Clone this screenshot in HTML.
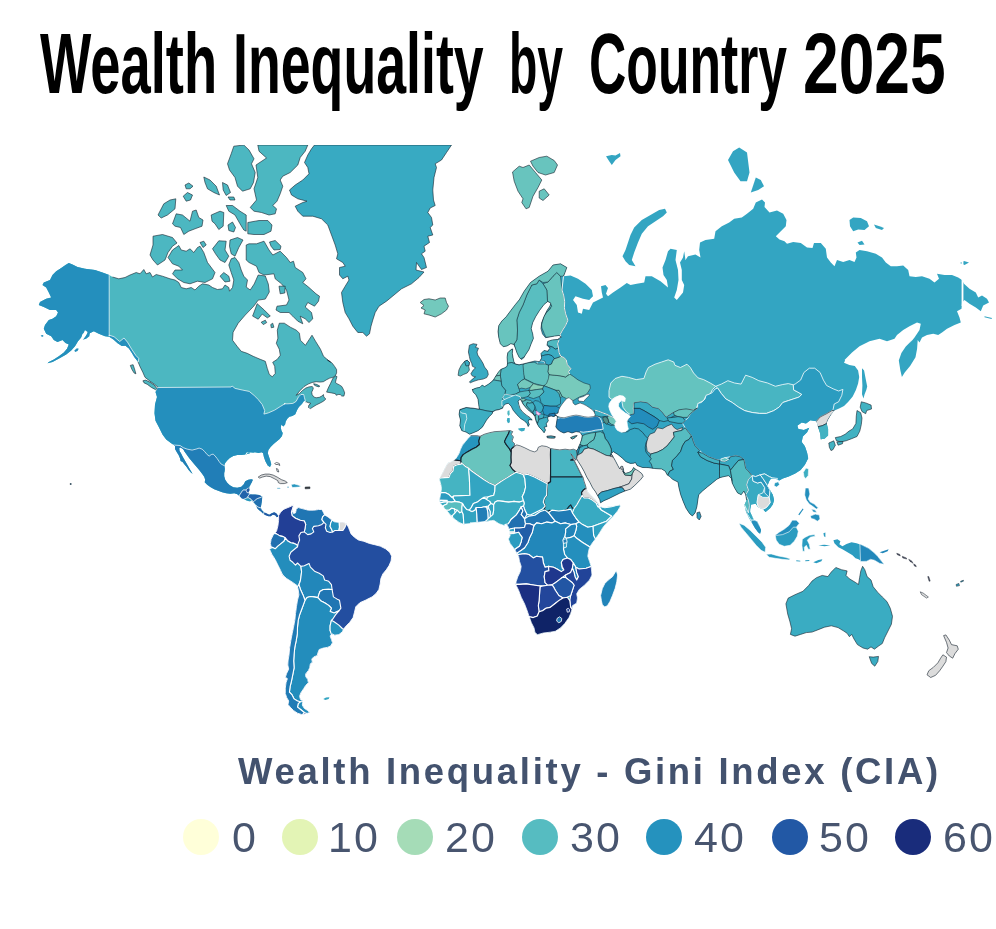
<!DOCTYPE html>
<html lang="en">
<head>
<meta charset="utf-8">
<title>Wealth Inequality by Country 2025</title>
<style>
html,body{margin:0;padding:0;background:#fff;}
body{width:996px;height:929px;position:relative;overflow:hidden;font-family:"Liberation Sans",sans-serif;}
h1{position:absolute;left:0;top:0;margin:0;font-size:86px;line-height:90px;font-weight:700;color:#000;white-space:nowrap;}
h1 span{position:absolute;top:18px;white-space:nowrap;transform-origin:0 0;}
h1 .w1{left:40px;transform:scaleX(0.632);}
h1 .w2{left:233px;transform:scaleX(0.6244);}
h1 .w3{left:509px;transform:scaleX(0.5394);}
h1 .w4{left:589px;transform:scaleX(0.601);}
h1 .w5{left:803px;transform:scaleX(0.746);}
svg.map{position:absolute;left:0;top:0;}
.ltitle{position:absolute;left:238px;top:749.5px;font-size:36.5px;line-height:44px;font-weight:700;color:#43526e;letter-spacing:2.7px;white-space:nowrap;}
.legend{position:absolute;left:0;top:812px;height:50px;width:996px;}
.legend i{position:absolute;top:7px;width:36px;height:36px;border-radius:50%;}
.legend span{position:absolute;top:0;font-size:43px;line-height:50px;color:#48556f;letter-spacing:2px;}
</style>
</head>
<body>
<h1><span class="w1">Wealth </span><span class="w2">Inequality </span><span class="w3">by </span><span class="w4">Country </span><span class="w5">2025</span></h1>
<svg class="map" width="996" height="929" viewBox="0 0 996 929">
<defs><clipPath id="frame"><rect x="0" y="145" width="996" height="600"/></clipPath>
<clipPath id="c_na"><path d="M109.2,275 102.5,272.5 95,270 85,268.8 77.5,267 72.5,264.5 68.8,263 65.5,265 61.2,268 56.2,271.2 52.5,275 50,280 43.8,282.5 42.5,285 46.2,287.5 48.8,292.5 51.2,297.5 46.2,298.8 40,302 38.8,305 43.8,307 50,310 56.2,310 58,312.5 56.2,316.2 52.5,318.8 48.8,320 45,325 43.8,328.8 46.2,333.8 51.2,336.2 53.8,340 57.5,342 62.5,340 65.5,343 68.8,344.5 67,348.8 63.8,352.5 58.8,356.2 53.8,359.5 48.8,362 47.5,363.2 52.5,362 60,358 66.2,354.5 71.2,350.5 75,346.2 78,341.2 81.2,337.5 82.5,333.8 86.2,332 88.8,333.8 93.8,331.2 98.8,333.8 105,336.2 109.2,336.8 113.4,339.4 117.6,343.3 121.8,346.1 125.4,345.7 128.9,348.5 131.7,352.7 134.2,356.9 137,360.4 138,361.8 138,361.8 140.1,366.8 142.9,372.4 145,377.3 150,381.2 154.5,384.3 158.1,387.4 155.5,392 157,397 155,404.5 154.5,413.2 155.5,420.8 158.8,427 162.5,434.5 166.2,439.5 171.2,443.2 175,445.8 175,449.1 177,452.6 178.6,455.1 180.1,458.6 180.6,461.1 182.6,462.1 184.1,464.1 186.6,467.1 188.6,470.1 191.1,472.7 192.6,473.7 190.6,470.6 188.6,467.1 186.6,463.6 184.6,460.1 182.6,456.6 181.1,453.6 179.6,451.1 179.1,448.6 180.1,447.2 183.1,449.1 184.6,451.6 186.6,454.6 189.1,458.1 191.6,461.1 194.1,464.1 197.1,467.6 199.6,470.6 202.1,473.7 204.2,476.7 205.2,479.7 204.7,482.2 207.2,484.7 210.7,487.2 214.2,489.2 218.2,490.7 222.2,492.2 226.2,493.2 230.3,493.7 234.3,493.2 237.3,494.2 239.8,496.2 240.1,496.6 241.6,498.2 244.1,499.2 246.1,500.2 249.1,501.2 252.1,501 254.2,503.2 256.2,505.7 257.2,508.2 259.2,510.2 261.2,511.7 263.2,513.7 265.7,515.2 268.2,516.2 270.7,516.2 272.7,514.7 275.2,515.2 276.7,517.2 278.3,516.7 277.8,515.2 276.2,513.2 274.2,512.2 271.7,513.2 269.2,514.7 266.2,513.2 264.2,512.2 262.2,510.2 260.7,507.7 261.4,504.2 262,500.2 262.2,496.6 259.2,495.1 255.2,494.6 252.1,494.6 249.6,494.1 248.6,492.6 249.6,490.1 249.1,488.1 249.3,487.7 250.3,485.2 251.8,482.2 252.9,479.7 251.3,479.2 248.3,479.7 245.3,481.2 243.8,484.2 241.3,486.7 237.3,487.7 233.3,487.2 229.8,485.2 227.2,482.7 225.2,479.7 224.2,476.2 224.2,473.2 224.7,469.1 224.2,465.6 225.2,463.1 227.2,460.6 229.8,458.1 233.3,456.1 237.3,455.1 241.3,455.1 245.3,454.6 246.3,452.6 249.3,452.1 253.4,452.1 245.9,454.5 248.9,452.3 251.9,452.9 254.9,452.3 258.6,452.9 261.6,452.3 263.1,453.3 263.9,457.1 265.4,461.3 267.7,465.5 270,467 271.3,464.3 270.1,460.1 268.9,456.5 267.8,453.3 268.4,449.9 270.6,446.9 273.6,443.9 276.6,441.4 279.6,439 282,436 282.7,433 281.4,430.6 280.8,427.6 281.4,424.6 283.3,426.4 285.1,424.6 285.7,421.6 287.5,418.6 289.3,416.7 292.3,416.1 295.3,414.3 297.1,410.1 298.9,407.1 301.9,404.1 304.3,400.5 305.5,401.9 306.1,401.8 308.1,402.6 310.9,403.4 308.9,405 308.5,407.4 310.5,408.6 312.9,407 316.1,405 320.2,403 323.8,401 325.8,399 323.8,396.9 323.4,394.5 321.8,396.1 319.4,397.3 316.1,397.8 313.7,396.9 312.1,394.5 311.7,392.1 312.9,389.7 313.3,387.7 312.1,386.5 308.9,386.9 305.7,388.1 302.5,390.5 299.3,393.7 296.1,395.3 300.1,390.5 304.1,386.5 308.1,384.1 312.1,382.5 316.1,381.7 320.2,382.1 323.4,381.7 326.6,379.7 329.8,378.1 333,377.3 335.4,375.7 336.6,372.9 336.6,369.6 334.6,366.4 332.2,363.2 329.8,361.2 327.4,360 330.5,362.3 323.5,356.3 320.5,349.3 315.5,341.2 312,335.2 309.4,339.2 305.4,345.3 300.4,340.2 299.4,333.2 296.4,330.2 290.4,327.2 284.3,323.2 279.3,323.2 277.3,330.2 277.9,338.2 276.3,343.3 279.3,349.3 280.3,355.3 277.3,359.3 272.7,362.3 274.7,366.3 275.3,373.4 272.3,376.8 269.3,374.4 267.3,368.4 265.3,361.3 260.2,359.3 253.2,356.3 247.2,353.3 241.2,351.3 237.1,346.3 232.5,340.2 233.1,332.2 238.2,323.2 245.2,315.1 253.8,306.1 258.2,300.1 265.3,299.1 269.3,292 268.3,284 265.3,276 258.2,275 254.2,284 250.2,290 246.2,287 247.5,280 243.8,276.2 241.2,270 238.8,262.5 235,257.5 231.2,258.8 228.8,265 231.2,272.5 233.8,280 232.5,287.5 229.5,291.2 228.8,287.5 225,285 222.5,288.8 217.5,289.5 212.5,287.5 208.8,285 202.5,283.8 198.8,286.2 195,290 191.2,287.5 186.2,288.8 181.2,287.5 178.8,282.5 175,280 170,278.8 162.5,276.2 156.2,274.5 152.5,277 150,272.5 146.2,273.8 143.8,269.5 140,273.8 136.2,272.5 130,275 125,277.5 118.8,278.8 112.5,277Z"/></clipPath>
<clipPath id="c_sa"><path d="M278.6,515.6 280.6,512.2 284,508.8 288,507.5 291.4,506.1 294.1,504.7 292.8,508.1 292.1,510.8 293.5,513.6 295.5,512.9 296.2,509.5 298.2,507.5 303,508.8 308.4,510.2 313.8,510.2 318.5,509.5 321.9,509.5 323.3,512.2 324.6,514.9 328,516.9 331.4,519.7 334.1,521.7 338.9,522.4 342.9,522 346.3,523.7 348.4,527.1 349.7,530.5 351.1,533.9 354.5,537.3 358.5,540 363.9,541.3 369.4,543.4 374.8,544.7 380.2,546.1 385.6,548.8 389.7,552.2 391.7,556.2 391.1,561 389,565.7 386.3,569.8 382.9,573.9 380.9,578.6 380.2,584 378.9,589.5 376.1,593.5 372.1,596.9 366.7,599.6 366,600 359.9,602.7 355.8,606.8 354.5,612.2 353.1,617.6 349.7,622.4 346.3,625.8 343.6,629.1 342.3,631.9 338.9,634.6 334.8,635.2 332.1,633.9 330.1,635.9 331.4,639.3 332.5,642.7 330.7,646.1 327.3,647.4 323.3,648.1 319.2,649.5 317.9,652.9 317.2,655.6 313.8,656.9 311.8,659 312.4,662.3 310.4,663.7 309.7,667.8 308.4,670.5 305.7,673.9 305.7,676.6 307.7,679.3 308.4,682.7 305.7,685.4 303.6,688.8 300.9,692.8 299.6,696.2 300.5,699.6 303,701 302.3,705 304.3,708.4 307.7,710.5 309.7,712.5 305.7,713.9 301.6,714.5 297.5,713.2 293.5,710.5 290.1,707.1 288,704.4 288.7,701 286.7,697.6 285.3,693.5 285.3,688.1 286,682.7 287.4,678.6 285.3,677.3 286.7,673.2 288.7,669.1 287.8,665.1 288,661 289.1,654.2 289.7,647.4 290.8,640.7 292.1,633.9 293.5,627.1 294.8,620.3 295.5,613.6 296.4,606.8 297.5,600 298.9,594.9 298.2,589.5 296.9,585.4 292.1,582 286.7,578.6 282.6,575.2 280.6,570.5 277.9,565.1 275.2,559.6 271.8,554.2 269.7,549.5 271.1,546.8 270.4,543.4 271.1,539.3 273.1,535.2 276.5,531.2 277.9,525.8 278.6,520.3Z"/></clipPath>
<clipPath id="c_af"><path d="M470.7,435.7 476.8,435.7 480.1,436.3 484.2,434.3 489.6,432.7 495.1,431.6 500.5,431.3 505.9,430.9 510,430.5 512.7,431.6 511.3,434.3 513.4,437 512,441.1 514.7,443.8 514,446.5 516.7,444.9 520.1,445.8 524.9,447.9 530.3,450.6 534.4,451.9 537.1,450.6 538.4,447.2 541.8,445.8 546.6,446.5 550.6,448.5 550.6,448.5 554.4,449.2 559.8,449.9 565.2,449.2 570,449.9 573.4,449.2 576.8,450.6 577.4,454.6 575.8,460.3 572.7,456 570.7,453.6 573.4,458.7 576.1,464.1 578.8,469.5 581.5,475 582.9,477 584.2,481.7 585.6,485.8 586.2,488.5 588.3,492.6 591.7,496 595.1,499.4 597.8,502.8 599.1,505.5 603.2,507.5 608.6,506.8 614,505.9 619.5,505.1 620,504.5 620.2,506.7 617.6,511 613.4,516.1 608.2,521.2 603.1,527.2 598.9,534 595.4,539.1 592,543.4 589.5,547.7 588.6,551.1 587.8,556.2 589.5,561.3 591.2,566.4 591.5,569.9 592,575 589.5,580.1 584.4,585.2 579.2,589.5 576.7,593.8 577.5,598 576.7,603.1 572.4,605.7 572.1,609.1 570.7,613.4 569,617.6 564.7,623.6 560.5,627.9 555.3,631.3 550.2,632.2 543.4,633 537.4,634.7 534.9,632.2 534,627.9 531.4,622.8 528.9,615.9 527.2,610.8 524.6,604 521.2,597.2 518.6,590.3 515.7,584.4 516.1,581.8 517.8,576.7 520.3,571.6 521.2,566.4 519.5,561.3 518.6,556.2 516.9,553.6 515.2,550.2 512.7,546.8 510.1,543.4 508.4,539.1 510.1,535.7 509.6,533.2 509.3,530.6 508.4,527.2 506.7,524.6 504.1,525.5 499,523.8 493.9,520.4 487.1,521.2 480.2,522.1 470,522.9 470.7,523.5 463.3,524.3 459.1,522.4 455.8,520 453,517.7 450.3,515 447.6,511.6 444.9,508.9 442.9,506.1 440.2,503.4 439.5,499.4 440.2,496 440.8,492.6 441.5,488.5 440.8,484.5 439.5,479.7 440.2,477 442.2,473.6 444.2,469.5 446.3,465.5 448.3,462.8 451.7,461.4 455.1,459.4 457.1,456.7 459.1,453.3 460.5,449.2 462.5,445.1 465.2,441.8 468,438.4Z"/></clipPath>
<clipPath id="c_ea"><path d="M553,265 560.5,263.8 566.8,267.5 565,272.5 563.5,276.2 570.5,275.5 578,278.8 585.5,283.8 591.8,290 593,296.2 589.2,300 583,298.8 575.5,296.2 573,300 576.8,305 578,312.5 581.8,313.8 583,308.8 589.2,310 593,302.5 598,300 603,297.5 601.8,292.5 601,286.2 605.5,285 608,288 606,293.8 608,296.2 613,292.5 620.5,287.5 626.8,283 630.5,285 636.8,283.8 644.2,282.5 645.5,276.2 651.8,276.2 660.5,281.2 668,287.5 666.8,280 663.5,275 662.5,267.5 665.5,260 668,251.2 670.5,248.8 676.8,250 675.5,260 678,270 678.5,280 676.8,290 674.2,297.5 676.8,300 683,292.5 684.2,285 681.8,280 681.8,270 680,262.5 683,257.5 684.2,251.2 685.5,260 688,256.2 695.5,254.5 700.5,257.5 699.2,250 700,242.5 705.5,240 714.2,238.8 715.5,231.2 721.8,226.2 729.2,222.5 734.2,218.8 741.8,217.5 747,213.8 747,213.8 753.2,208.8 755.8,202.5 762,199.5 765,202.5 764.5,207 769.5,212.5 777,210.5 783.2,213.8 786.5,220 785.8,226.2 780.8,231.2 775.8,236.2 779.5,239.5 784.5,241.2 787,243.8 793.2,242 800.8,243 807,247.5 812.5,248 814,243 820.8,243 825.8,248.8 827,257.5 830.8,262.5 834.5,266.2 837,260 843.2,262 849.5,260 854.5,262 856.5,257.5 855.8,252.5 859.5,250 867,251.2 875.8,253.8 882,257.5 885.8,262.5 890.8,266.2 897,266.2 903.2,265.5 908.2,270 909.5,276.2 915.8,277 922,276.2 929.5,278.8 934.5,282.5 939,278.8 937,273.8 944.5,275 952,275 958.2,277.5 962,280 964,283.8 969.5,288.8 975.8,292.5 978.2,297.5 982,295.5 987,298.8 989,302.5 983.2,305.5 980.8,311.2 975.8,307.5 969.5,303.8 964.5,300 962,302.5 961.5,308.8 957,311.2 959.5,317.5 960.8,322.5 954.5,325 947,328.8 942,332.5 938.2,335 933.2,333.8 927,335 922,337.5 919.5,342.5 917.7,340 917.1,348.7 915.5,357.3 910.1,366 904.7,372.5 901.9,376.9 900.4,370.4 898.8,360.6 901.4,353 905.8,346.5 912.3,340 909.5,343.8 914.5,337.5 919.5,330 920.8,323.8 917,322.5 909.5,326.2 903.2,330 897,335 894.5,338.8 887,341.2 879.5,338.8 869.5,341.2 859.5,346.2 852,352.5 844.5,360 845.1,360.6 844,362.8 849.4,364.9 854.8,366 858.1,370.4 859.2,376.9 858.1,383.4 855.9,389.9 852.7,396.4 848.3,401.8 844,406.1 839.6,408.3 836.8,409.4 834.2,410.5 831,414.8 827.7,420.2 826.6,423.5 828.1,428.9 828.1,435.4 824.5,438.7 820.8,439.3 820.1,433.3 818,426.7 816.4,421.3 810.4,420.2 806,423.5 801.7,422.4 797.3,425.7 798.4,428.9 803.9,430 809.3,427.8 807.1,432.2 802.8,436.5 801.7,441.9 804.9,446.3 807.1,452.8 808.2,458.2 804.9,464.7 800.6,470.1 795.2,473.4 788.7,476.6 782.8,478.4 779.2,480.6 775.6,478.4 771,478.4 769.2,481.2 767.4,485.7 770.1,490.2 772.8,494.7 774.1,500.1 772.8,504.6 770.1,508.3 765.6,511.9 762.9,509.2 758.4,507.4 755.7,503.7 751.2,504.6 750.2,509.2 750.1,512.1 752.1,516.1 754.1,520.2 757.1,521.2 759.1,525.2 761.1,530.2 760.1,533.8 758.1,532.2 755.1,528.2 752.1,523.2 749.1,518.2 746.1,512.1 744.5,505.1 746.6,500.1 745.7,494.7 743.9,491.1 741.2,494.7 737.6,492.9 734.9,488.4 732.2,483 731.3,478.4 728.6,475.7 724,476.6 720.4,477.5 716.8,479.3 712.3,483 707.8,486.6 702.4,491.1 698.7,494.7 697.8,500.1 696.9,506.5 695.1,512.8 692.4,516 689.7,513.7 686.1,508.3 683.4,501.9 680.7,494.7 678.9,487.5 678,482.1 672.5,479.3 669.8,476.6 667.1,474.8 665.3,471.2 661.7,469 654.5,468.5 648.1,467.6 642.5,467.5 637.1,465.5 635.4,462.5 633.7,463.2 630.3,463.4 626,461.7 622.2,458 617.8,454.4 613.4,451.7 611.1,453.6 613.4,457.3 615.7,461.4 617.8,465.5 619.7,468.9 621.1,466.2 622.7,466.4 623.5,469.5 623.8,472 625.6,473.3 628.9,472.5 631.9,470.6 633.7,467.5 635,468.9 638.4,470.9 641.8,473.6 643.2,476.3 640.5,479.7 637.1,483.1 634.4,485.8 630.3,489.2 624.9,491 619.5,493.3 614,496 608.6,498.7 603.9,500.7 600.5,502.8 599.8,499.6 597.8,496 595.6,491.9 592.6,487.8 589.9,482.4 586.7,477 584.2,471.6 581.2,466.2 578.1,461.4 576.6,458.7 577.4,454.6 576.8,450.6 578.1,448.5 578.8,446.5 580.1,443.8 581.5,439.7 582.2,435.7 580.1,432.3 576.1,431.6 572,433 568,431.6 563.9,433 560.5,431.6 557.8,429.6 555.8,426.9 556.4,424.1 557.5,416.6 556,415.2 553.9,416.6 551.1,415.9 548.3,416.6 547.6,418 548.3,420.8 546.2,423.7 546.9,426.5 544.1,427.2 545.5,430 544.1,432.8 542,430 539.2,427.2 537.1,423.7 535.7,420.1 535,416.6 532.9,413.8 529.3,411 525.8,407.5 523,404 521.6,401.2 520.2,399.1 518.1,401.2 518.8,404.7 520.2,408.9 523,412.4 526.5,415.2 530,417.6 532.2,420.1 529.1,419.4 528.2,421.8 529.3,424.4 528.2,426.5 527.2,423.7 524.4,420.8 520.9,418.7 516.7,414.5 513.2,410.3 511.1,406.1 508.3,403.3 505.4,404 503.3,406.1 502.6,408.2 499.1,409.6 495.6,410.3 492.8,411.7 492.1,413.8 489.3,416.6 486.5,420.1 484.4,423.7 482.3,427.2 478,430.7 473.1,432.8 469.6,434.2 466.1,432.1 461.9,430.7 459.8,425.8 460.5,420.1 459.1,414.5 459.8,409.6 466.1,407.5 473.1,408.2 479.4,409.2 478.7,404.7 478,399.1 475.9,394.8 473.1,392 472.4,389.2 472.4,389.6 476.2,388.1 480,387.3 482.2,385.1 484.5,386.6 488.3,384.3 491.3,382.1 493.5,379.8 495.8,376.1 498.8,371.5 501.1,369.3 504.8,367.8 507.1,366.3 507.5,363.3 507.1,357.2 507.8,352.7 510.8,349.7 512.7,348.9 512.3,353.5 513.1,358 513.9,361.7 515.4,364 519.1,364.8 522.9,364 528.9,362.5 534.9,361 539.5,361.7 541.7,358 541,353.5 544,350.5 547.7,351.2 550,348.2 547,345.2 547.7,341.4 552.3,339.9 557.5,339.5 561.3,336.9 559,335.4 554.5,336.1 550,336.9 545.5,337.7 542.5,333.9 541,328.6 541.7,322.6 544,316.6 547,310.5 550,306 550.8,303 547.7,301.5 544,304.5 539.5,310.5 535.7,316.6 532.7,322.6 531.2,328.6 532.7,333.9 533.4,338.4 531.2,343.7 528.9,349.7 525.9,354.2 523.6,358 521.4,359.5 519.1,357.2 516.9,352.7 515.4,348.2 513.9,344.4 510.8,343.7 507.1,345.9 503.3,346.7 500.3,343.7 498.8,337.7 498,331.6 498.8,325.6 501.8,321.1 506.3,316.6 510.8,310.5 515.4,304.5 519.1,300 519.2,300 524.2,291.2 530.5,282.5 539.2,276.2 548,271.2Z"/></clipPath>
</defs>
<g clip-path="url(#frame)" stroke-linejoin="round">
<path d="M109.2,275 102.5,272.5 95,270 85,268.8 77.5,267 72.5,264.5 68.8,263 65.5,265 61.2,268 56.2,271.2 52.5,275 50,280 43.8,282.5 42.5,285 46.2,287.5 48.8,292.5 51.2,297.5 46.2,298.8 40,302 38.8,305 43.8,307 50,310 56.2,310 58,312.5 56.2,316.2 52.5,318.8 48.8,320 45,325 43.8,328.8 46.2,333.8 51.2,336.2 53.8,340 57.5,342 62.5,340 65.5,343 68.8,344.5 67,348.8 63.8,352.5 58.8,356.2 53.8,359.5 48.8,362 47.5,363.2 52.5,362 60,358 66.2,354.5 71.2,350.5 75,346.2 78,341.2 81.2,337.5 82.5,333.8 86.2,332 88.8,333.8 93.8,331.2 98.8,333.8 105,336.2 109.2,336.8 113.4,339.4 117.6,343.3 121.8,346.1 125.4,345.7 128.9,348.5 131.7,352.7 134.2,356.9 137,360.4 138,361.8 138,361.8 140.1,366.8 142.9,372.4 145,377.3 150,381.2 154.5,384.3 158.1,387.4 155.5,392 157,397 155,404.5 154.5,413.2 155.5,420.8 158.8,427 162.5,434.5 166.2,439.5 171.2,443.2 175,445.8 175,449.1 177,452.6 178.6,455.1 180.1,458.6 180.6,461.1 182.6,462.1 184.1,464.1 186.6,467.1 188.6,470.1 191.1,472.7 192.6,473.7 190.6,470.6 188.6,467.1 186.6,463.6 184.6,460.1 182.6,456.6 181.1,453.6 179.6,451.1 179.1,448.6 180.1,447.2 183.1,449.1 184.6,451.6 186.6,454.6 189.1,458.1 191.6,461.1 194.1,464.1 197.1,467.6 199.6,470.6 202.1,473.7 204.2,476.7 205.2,479.7 204.7,482.2 207.2,484.7 210.7,487.2 214.2,489.2 218.2,490.7 222.2,492.2 226.2,493.2 230.3,493.7 234.3,493.2 237.3,494.2 239.8,496.2 240.1,496.6 241.6,498.2 244.1,499.2 246.1,500.2 249.1,501.2 252.1,501 254.2,503.2 256.2,505.7 257.2,508.2 259.2,510.2 261.2,511.7 263.2,513.7 265.7,515.2 268.2,516.2 270.7,516.2 272.7,514.7 275.2,515.2 276.7,517.2 278.3,516.7 277.8,515.2 276.2,513.2 274.2,512.2 271.7,513.2 269.2,514.7 266.2,513.2 264.2,512.2 262.2,510.2 260.7,507.7 261.4,504.2 262,500.2 262.2,496.6 259.2,495.1 255.2,494.6 252.1,494.6 249.6,494.1 248.6,492.6 249.6,490.1 249.1,488.1 249.3,487.7 250.3,485.2 251.8,482.2 252.9,479.7 251.3,479.2 248.3,479.7 245.3,481.2 243.8,484.2 241.3,486.7 237.3,487.7 233.3,487.2 229.8,485.2 227.2,482.7 225.2,479.7 224.2,476.2 224.2,473.2 224.7,469.1 224.2,465.6 225.2,463.1 227.2,460.6 229.8,458.1 233.3,456.1 237.3,455.1 241.3,455.1 245.3,454.6 246.3,452.6 249.3,452.1 253.4,452.1 245.9,454.5 248.9,452.3 251.9,452.9 254.9,452.3 258.6,452.9 261.6,452.3 263.1,453.3 263.9,457.1 265.4,461.3 267.7,465.5 270,467 271.3,464.3 270.1,460.1 268.9,456.5 267.8,453.3 268.4,449.9 270.6,446.9 273.6,443.9 276.6,441.4 279.6,439 282,436 282.7,433 281.4,430.6 280.8,427.6 281.4,424.6 283.3,426.4 285.1,424.6 285.7,421.6 287.5,418.6 289.3,416.7 292.3,416.1 295.3,414.3 297.1,410.1 298.9,407.1 301.9,404.1 304.3,400.5 305.5,401.9 306.1,401.8 308.1,402.6 310.9,403.4 308.9,405 308.5,407.4 310.5,408.6 312.9,407 316.1,405 320.2,403 323.8,401 325.8,399 323.8,396.9 323.4,394.5 321.8,396.1 319.4,397.3 316.1,397.8 313.7,396.9 312.1,394.5 311.7,392.1 312.9,389.7 313.3,387.7 312.1,386.5 308.9,386.9 305.7,388.1 302.5,390.5 299.3,393.7 296.1,395.3 300.1,390.5 304.1,386.5 308.1,384.1 312.1,382.5 316.1,381.7 320.2,382.1 323.4,381.7 326.6,379.7 329.8,378.1 333,377.3 335.4,375.7 336.6,372.9 336.6,369.6 334.6,366.4 332.2,363.2 329.8,361.2 327.4,360 330.5,362.3 323.5,356.3 320.5,349.3 315.5,341.2 312,335.2 309.4,339.2 305.4,345.3 300.4,340.2 299.4,333.2 296.4,330.2 290.4,327.2 284.3,323.2 279.3,323.2 277.3,330.2 277.9,338.2 276.3,343.3 279.3,349.3 280.3,355.3 277.3,359.3 272.7,362.3 274.7,366.3 275.3,373.4 272.3,376.8 269.3,374.4 267.3,368.4 265.3,361.3 260.2,359.3 253.2,356.3 247.2,353.3 241.2,351.3 237.1,346.3 232.5,340.2 233.1,332.2 238.2,323.2 245.2,315.1 253.8,306.1 258.2,300.1 265.3,299.1 269.3,292 268.3,284 265.3,276 258.2,275 254.2,284 250.2,290 246.2,287 247.5,280 243.8,276.2 241.2,270 238.8,262.5 235,257.5 231.2,258.8 228.8,265 231.2,272.5 233.8,280 232.5,287.5 229.5,291.2 228.8,287.5 225,285 222.5,288.8 217.5,289.5 212.5,287.5 208.8,285 202.5,283.8 198.8,286.2 195,290 191.2,287.5 186.2,288.8 181.2,287.5 178.8,282.5 175,280 170,278.8 162.5,276.2 156.2,274.5 152.5,277 150,272.5 146.2,273.8 143.8,269.5 140,273.8 136.2,272.5 130,275 125,277.5 118.8,278.8 112.5,277Z" fill="#4cb7c1" stroke="none" stroke-width="0.6"/>
<g clip-path="url(#c_na)">
<path d="M158,387.5 231.1,387 232.1,386 235.1,388.4 242.2,390 249.2,391.4 254.2,395.5 258.2,399.5 262.2,404.5 264.7,410.5 263.9,414.1 268.3,412.9 274.7,410.1 280.3,406.5 285.3,403.5 284,403.8 288,403.8 292.9,403.4 296.1,401.4 298.5,396.9 300.9,394.5 303.7,394.5 304.5,397.8 305.7,402.2 312.1,411.4 324,422 286.5,477 249,467 228.8,474.5 215,468.2 200,458.2 185,453.2 173.8,447.5 140,422 145,387Z" fill="#248fbd" stroke="#fff" stroke-width="0.7"/>
<path d="M109.2,270 109.2,336.2 109.2,335.1 114.1,336.8 119.7,341.5 124,338 127.5,342.2 131.7,349.2 135.9,355.5 138.7,358.3 138.4,362.6 116.2,370.3 25,370 25,252.5 109.2,252.5Z" fill="#248fbd" stroke="#fff" stroke-width="0.7"/>
<path d="M173,445 180.1,445.5 183.1,447.6 187.1,449.1 192.1,450.1 196.1,449.1 199.1,448.1 202.1,449.1 204.7,451.6 207.2,454.6 209.2,456.1 211.2,454.6 213.2,454.1 215.2,456.1 217.2,458.6 219.2,461.6 221.2,464.1 224.2,465.6 235.3,465.1 257.2,475.1 249.6,487.1 249.1,488.6 247.1,488.6 246.1,490.1 243.1,490.1 241.6,492.1 239.6,495.1 235.1,502.2 150,472 162.5,444.5Z" fill="#217eb7" stroke="#fff" stroke-width="0.7"/>
<path d="M239.6,495.1 241.6,492.1 243.1,490.1 246.1,490.1 247.1,492.6 248.6,492.6 249.6,494.1 248.1,496.1 246.6,498.2 244.1,499.2 241.6,499.7 239.1,497.1Z" fill="#2164ab" stroke="#fff" stroke-width="0.6"/>
<path d="M247.1,488.6 249.6,487.6 250.1,490.1 248.6,492.6 247.1,492.6 246.1,490.1Z" fill="#2258a5" stroke="#fff" stroke-width="0.5"/>
<path d="M249.6,494.1 252.1,493.6 255.2,493.6 259.2,494.1 263.2,496.1 260.2,497.7 257.2,498.7 255.2,500.2 253.7,501.7 252.1,500.7 250.6,498.7 248.1,497.7 248.1,496.1Z" fill="#2164ab" stroke="#fff" stroke-width="0.6"/>
<path d="M244.1,499.2 246.6,498.2 248.1,497.7 250.6,499.2 252.1,501 249.1,502.2 245.1,501.2Z" fill="#2897bf" stroke="#fff" stroke-width="0.5"/>
<path d="M252.1,501 253.7,501.7 255.2,500.2 257.2,498.7 260.2,497.7 263.2,496.1 263,500.2 262.2,504.2 261.2,508 258.2,507.2 256.2,505.7 254.2,503.2Z" fill="#2070b0" stroke="#fff" stroke-width="0.6"/>
<path d="M256.2,505.7 258.2,507.2 261.2,508 262.2,510.2 264.2,512.2 263.2,514.7 259.2,511.2 256.2,508.2Z" fill="#216aad" stroke="#fff" stroke-width="0.6"/>
<path d="M264.2,512.2 266.2,512.2 269.2,513.7 271.7,512.2 274.2,511.2 276.7,512.7 278.8,515.2 278.8,517.7 275.2,517.2 270.7,517.2 265.7,516.2 263.2,514.7Z" fill="#2258a5" stroke="#fff" stroke-width="0.6"/>
</g>
<path d="M138,361.8 140.1,366.8 142.9,372.4 145,377.3 150,381.2 154.5,384.3 158.1,387.4" fill="none" stroke="#16222e" stroke-width="0.6"/>
<path d="M305.7,402.2 306.1,401.8 308.1,402.6 310.9,403.4 308.9,405 308.5,407.4 310.5,408.6 312.9,407 316.1,405 320.2,403 323.8,401 325.8,399 323.8,396.9 323.4,394.5 321.8,396.1 319.4,397.3 316.1,397.8 313.7,396.9 312.1,394.5 311.7,392.1 312.9,389.7 313.3,387.7 312.1,386.5 308.9,386.9 305.7,388.1 302.5,390.5 299.3,393.7 296.1,395.3 300.1,390.5 304.1,386.5 308.1,384.1 312.1,382.5 316.1,381.7 320.2,382.1 323.4,381.7 326.6,379.7 329.8,378.1 333,377.3 335.4,375.7 336.6,372.9 336.6,369.6 334.6,366.4 332.2,363.2 329.8,361.2 327.4,360 330.5,362.3 323.5,356.3 320.5,349.3 315.5,341.2 312,335.2 309.4,339.2 305.4,345.3 300.4,340.2 299.4,333.2 296.4,330.2 290.4,327.2 284.3,323.2 279.3,323.2 277.3,330.2 277.9,338.2 276.3,343.3 279.3,349.3 280.3,355.3 277.3,359.3 272.7,362.3 274.7,366.3 275.3,373.4 272.3,376.8 269.3,374.4 267.3,368.4 265.3,361.3 260.2,359.3 253.2,356.3 247.2,353.3 241.2,351.3 237.1,346.3 232.5,340.2 233.1,332.2 238.2,323.2 245.2,315.1 253.8,306.1 258.2,300.1 265.3,299.1 269.3,292 268.3,284 265.3,276 258.2,275 254.2,284 250.2,290 246.2,287 247.5,280 243.8,276.2 241.2,270 238.8,262.5 235,257.5 231.2,258.8 228.8,265 231.2,272.5 233.8,280 232.5,287.5 229.5,291.2 228.8,287.5 225,285 222.5,288.8 217.5,289.5 212.5,287.5 208.8,285 202.5,283.8 198.8,286.2 195,290 191.2,287.5 186.2,288.8 181.2,287.5 178.8,282.5 175,280 170,278.8 162.5,276.2 156.2,274.5 152.5,277 150,272.5 146.2,273.8 143.8,269.5 140,273.8 136.2,272.5 130,275 125,277.5 118.8,278.8 112.5,277" fill="none" stroke="#16222e" stroke-width="0.6"/>
<path d="M153,236.2 162.5,234.5 172.5,237.5 177,243 172.5,246.2 168,252.5 165,260 157.5,265 153,260 150,255 153,245Z" fill="#4cb7c1" stroke="#16222e" stroke-width="0.6"/>
<path d="M168,257.5 172.5,250 178.8,245.5 181.2,250 186.2,251.2 190,248.8 193.8,252.5 197.5,247.5 200,246.2 203.8,252.5 207.5,262.5 215,272.5 212.5,278.8 205,282.5 197.5,281.2 190,283.8 183.8,282.5 177.5,278.8 172.5,273.8 175,270 182.5,270 178.8,266.2 172.5,263.8Z" fill="#4cb7c1" stroke="#16222e" stroke-width="0.6"/>
<path d="M158,215 163.8,203.8 170,200 175.8,198.8 175,208.8 167.5,215 161.2,218Z" fill="#4cb7c1" stroke="#16222e" stroke-width="0.6"/>
<path d="M172.5,223.8 176.2,213.8 182.5,215 190,221.2 192.5,211.2 196.2,210 198.8,217.5 203,220 202,226.2 195,228.8 188.8,231.2 183.8,234.5 180.5,227.5 175,226.2Z" fill="#4cb7c1" stroke="#16222e" stroke-width="0.6"/>
<path d="M185,185 188.8,183 193,186.2 190,188.8 186.2,188.8Z" fill="#4cb7c1" stroke="#16222e" stroke-width="0.6"/>
<path d="M183.2,196.2 187.5,192.5 192.5,195 190.5,200 186.2,201.2Z" fill="#4cb7c1" stroke="#16222e" stroke-width="0.6"/>
<path d="M203.8,177 210,180 216.2,186.2 219.5,195 213.8,192.5 207.5,188.8 205,182.5Z" fill="#4cb7c1" stroke="#16222e" stroke-width="0.6"/>
<path d="M222.5,182.5 227.5,185 230.5,192.5 226.2,195.5 223.2,190Z" fill="#4cb7c1" stroke="#16222e" stroke-width="0.6"/>
<path d="M228,197 233.8,197 235,200 230,200Z" fill="#4cb7c1" stroke="#16222e" stroke-width="0.6"/>
<path d="M211.2,215 220,211.2 223.8,212.5 223.2,226.2 218.8,229.5 215,223.8 212,221.2Z" fill="#4cb7c1" stroke="#16222e" stroke-width="0.6"/>
<path d="M228,225 232.5,222 235.5,227.5 233.8,232 228.8,230.5Z" fill="#4cb7c1" stroke="#16222e" stroke-width="0.6"/>
<path d="M212.5,248.8 218.8,240.8 226.2,241.2 225,250 228.8,256.2 225,262.5 220,260 215.5,253.8Z" fill="#4cb7c1" stroke="#16222e" stroke-width="0.6"/>
<path d="M230,240 237.5,237.5 243,240 238.8,247.5 235,256.2 231.2,253.8 229.5,246.2Z" fill="#4cb7c1" stroke="#16222e" stroke-width="0.6"/>
<path d="M200,242.5 203.8,241.2 206.2,245 203,247.5Z" fill="#4cb7c1" stroke="#16222e" stroke-width="0.6"/>
<path d="M220,276.2 223.8,272.5 228.8,276.2 230,281.2 225,282Z" fill="#4cb7c1" stroke="#16222e" stroke-width="0.6"/>
<path d="M233.8,146.2 243.8,145 249,150 254,158.8 251.5,163.8 255.2,172.5 253.5,182.5 250.2,188.8 242.5,191.2 237.5,186.2 235,177.5 229.5,170 227.5,163.8 231.2,153.8Z" fill="#4cb7c1" stroke="#16222e" stroke-width="0.6"/>
<path d="M257.8,145 307.8,145 305.2,151.2 300.2,157.5 297.8,165 290.2,172.5 282.8,176.2 280.2,180 282.8,186.2 280.2,193.8 277,201.2 272.8,205.5 276.5,208.8 275.2,213.8 269,215 261.5,212.5 254,211.2 250.2,207.5 256.5,200 254,188.8 257.8,177.5 256,165 266.5,158 259,151.2Z" fill="#4cb7c1" stroke="#16222e" stroke-width="0.6"/>
<path d="M226.2,205.5 232.5,205.5 240,211.2 246.2,215 246.2,231.2 243.8,230 240,223.8 235,215 228.8,211.2Z" fill="#4cb7c1" stroke="#16222e" stroke-width="0.6"/>
<path d="M247.8,222.5 259,220.5 267.8,220.5 272,225 271,231.2 264,234.5 254,234.5 247.8,233.8Z" fill="#4cb7c1" stroke="#16222e" stroke-width="0.6"/>
<path d="M269.5,242 275.2,240.5 281,246.2 280.2,249.5 274,250 271,246.2Z" fill="#4cb7c1" stroke="#16222e" stroke-width="0.6"/>
<path d="M246.2,245 249,243.8 256.5,243.8 264,241.2 269,250 272.8,255 280.2,251.2 286.5,257.5 290.2,262.5 293.5,261.2 295.2,267.5 302.8,272.5 306,278.8 302.8,282.5 309,287.5 316,293.8 319.5,296.2 318.5,301.2 314.5,306.2 307.8,302.5 305.2,307 311.5,312.5 312.8,318.8 309,322.5 305.2,318.8 300.2,316.2 302.8,323.8 297.8,321.2 292.8,316.2 289,312.5 280.2,312.5 276,310 277,306.2 286.5,305 289,300 286.5,290 281.5,283.8 275.2,278.8 274,273.8 264,275 259,272.5 256.5,266.2 249,262.5 246.2,260Z" fill="#4cb7c1" stroke="#16222e" stroke-width="0.6"/>
<path d="M279,286.2 285.2,286.2 284.8,293 280.2,293.8Z" fill="#4cb7c1" stroke="#16222e" stroke-width="0.6"/>
<path d="M252.6,316.1 257.2,303.7 264.3,310.1 270.3,316.1 267.3,317.8 262.2,314.1 258.2,319.2Z" fill="#4cb7c1" stroke="#16222e" stroke-width="0.6"/>
<path d="M261.2,322.2 265.3,320.2 266.7,322.6 263.3,324.6Z" fill="#4cb7c1" stroke="#16222e" stroke-width="0.6"/>
<path d="M270.7,324.6 272.7,323.2 273.9,327.2 271.3,327.8Z" fill="#4cb7c1" stroke="#16222e" stroke-width="0.6"/>
<path d="M326.6,392.1 328.2,388.1 330.6,383.3 333,378.1 335.4,376.1 337,376.5 336.2,379.3 335.4,382.5 337,383.7 339.4,384.9 341.8,386.5 343.5,389.7 344.7,392.9 343.9,396.1 341.8,396.1 340.2,394.5 338.2,394.5 336.2,395.3 335.4,393.7 331.4,392.9Z" fill="#4cb7c1" stroke="#16222e" stroke-width="0.6"/>
<path d="M313.7,383.7 316.9,384.5 319.8,386.1 319,386.9 316.1,386.1 314.1,384.9Z" fill="#4cb7c1" stroke="#16222e" stroke-width="0.6"/>
<path d="M142.9,380.8 145.7,380.1 150,382.2 154.2,385 157,388.6 155.6,389.7 151.4,387.4 147.2,384.3 144.1,382.9Z" fill="#4cb7c1" stroke="#16222e" stroke-width="0.6"/>
<path d="M130.3,365.4 133.1,364.7 134.5,368.9 135.9,373.8 134.2,373.1 132,369.6Z" fill="#4cb7c1" stroke="#16222e" stroke-width="0.6"/>
<path d="M314.5,145 451.5,145 446.5,152.5 441.5,160 435.2,163.8 436.5,167.5 434,177.5 432.8,190 433.5,200 435.2,205.5 430.2,208 427.8,212.5 431.5,217.5 432.8,225 430.2,227.5 432.8,235 427.8,236.2 429.5,242.5 424,246.2 425.2,251.2 421.5,253.8 424,257.5 426.5,267.5 421.5,269.5 416.5,262.5 416,270 424,272 419,277.5 411.5,283.8 401.5,288.8 394,295 386.5,301.2 379,306.2 375.2,312.5 372.8,320 371,326.2 369.5,333.8 366.5,336.2 362.8,332.5 357.8,332.5 352.8,326.2 349,318.8 345.2,312.5 342.8,302.5 341.5,292.5 345.2,286.2 349,280 347.8,276.2 342.8,278.8 339.5,275 339.5,267.5 345.2,266.2 342.8,262.5 336.5,258.8 337.8,253.8 335.2,245 331.5,235 327.8,225 321.5,218.8 312.8,216.2 302.8,216.2 297.8,211.2 295.2,206.2 302.8,202.5 307,201.2 297.8,198.8 291.5,195 289.5,190 295.2,185 302.8,180 309,173.8 307.8,167.5 304.5,162.5 307.8,155 311.5,148.8Z" fill="#38aac2" stroke="#16222e" stroke-width="0.6"/>
<path d="M420.2,302.5 424,299.5 429,298.8 435.2,300 440.2,298 445.2,298 446.5,302.5 448.5,306.2 446.5,310 441.5,313.8 435.2,317 429,315 424,313.8 425.2,310 421,308 424,305.5Z" fill="#73c9bd" stroke="#16222e" stroke-width="0.6"/>
<path d="M258.2,477.1 261.2,475.1 265.2,474.1 269.2,474.1 273.2,475.1 277.2,477.1 281.3,479.6 285.3,481.1 287.3,482.6 284.3,483.6 280.3,483.6 278.3,482.6 277.8,480.6 274.2,478.6 270.2,476.6 266.2,476.1 262.2,477.1 259.7,478.1Z" fill="#dcdcdc" stroke="#16222e" stroke-width="0.6"/>
<path d="M291.1,484.6 294.3,483.9 298.3,485.1 301.3,486.3 298.8,487.1 295.3,487.3 292.3,487.6Z" fill="#2897bf" stroke="#fff" stroke-width="0.6"/>
<path d="M287.3,486.7 288.8,486.7 288.8,487.5 287.3,487.5Z" fill="#238dbc" stroke="none" stroke-width="0.6"/>
<path d="M277.2,487.9 280.3,487.9 280.3,488.5 277.2,488.5Z" fill="#2592be" stroke="none" stroke-width="0.6"/>
<path d="M305.2,487.1 309.9,486.9 309.9,488.6 305.2,488.8Z" fill="#444" stroke="#16222e" stroke-width="0.6"/>
<path d="M274.7,463.5 276.7,462.5 279.3,463.5 279.8,465.5 278.1,464.5 275.7,464.5Z" fill="#fff" stroke="#16222e" stroke-width="0.6"/>
<path d="M276.4,468.5 277.8,469 278.8,472 277.2,471.5Z" fill="#fff" stroke="#16222e" stroke-width="0.6"/>
<path d="M70.2,483.5 71.2,483.5 71.2,484.5 70.2,484.5Z" fill="#248fbd" stroke="#16222e" stroke-width="0.6"/>
<path d="M82.7,339.7 86.3,338.8 89.4,336.3 89.9,333.3 87.9,332 85.3,336.3Z" fill="#248fbd" stroke="none" stroke-width="0.6"/>
<path d="M85,330.2 82.7,335 81.1,339.2 82.9,339.5 85.5,335.9 87.6,332Z" fill="#fff" stroke="none" stroke-width="0.6"/>
<path d="M74.3,350.5 76.9,348.3 78.8,348.8 77.5,351.1 75.2,352.1Z" fill="#248fbd" stroke="none" stroke-width="0.6"/>
<path d="M40.7,335.6 42.6,335.1 43.7,336.1 42,336.9Z" fill="#248fbd" stroke="none" stroke-width="0.6"/>
<path d="M278.6,515.6 280.6,512.2 284,508.8 288,507.5 291.4,506.1 294.1,504.7 292.8,508.1 292.1,510.8 293.5,513.6 295.5,512.9 296.2,509.5 298.2,507.5 303,508.8 308.4,510.2 313.8,510.2 318.5,509.5 321.9,509.5 323.3,512.2 324.6,514.9 328,516.9 331.4,519.7 334.1,521.7 338.9,522.4 342.9,522 346.3,523.7 348.4,527.1 349.7,530.5 351.1,533.9 354.5,537.3 358.5,540 363.9,541.3 369.4,543.4 374.8,544.7 380.2,546.1 385.6,548.8 389.7,552.2 391.7,556.2 391.1,561 389,565.7 386.3,569.8 382.9,573.9 380.9,578.6 380.2,584 378.9,589.5 376.1,593.5 372.1,596.9 366.7,599.6 366,600 359.9,602.7 355.8,606.8 354.5,612.2 353.1,617.6 349.7,622.4 346.3,625.8 343.6,629.1 342.3,631.9 338.9,634.6 334.8,635.2 332.1,633.9 330.1,635.9 331.4,639.3 332.5,642.7 330.7,646.1 327.3,647.4 323.3,648.1 319.2,649.5 317.9,652.9 317.2,655.6 313.8,656.9 311.8,659 312.4,662.3 310.4,663.7 309.7,667.8 308.4,670.5 305.7,673.9 305.7,676.6 307.7,679.3 308.4,682.7 305.7,685.4 303.6,688.8 300.9,692.8 299.6,696.2 300.5,699.6 303,701 302.3,705 304.3,708.4 307.7,710.5 309.7,712.5 305.7,713.9 301.6,714.5 297.5,713.2 293.5,710.5 290.1,707.1 288,704.4 288.7,701 286.7,697.6 285.3,693.5 285.3,688.1 286,682.7 287.4,678.6 285.3,677.3 286.7,673.2 288.7,669.1 287.8,665.1 288,661 289.1,654.2 289.7,647.4 290.8,640.7 292.1,633.9 293.5,627.1 294.8,620.3 295.5,613.6 296.4,606.8 297.5,600 298.9,594.9 298.2,589.5 296.9,585.4 292.1,582 286.7,578.6 282.6,575.2 280.6,570.5 277.9,565.1 275.2,559.6 271.8,554.2 269.7,549.5 271.1,546.8 270.4,543.4 271.1,539.3 273.1,535.2 276.5,531.2 277.9,525.8 278.6,520.3Z" fill="#234ea0" stroke="none" stroke-width="0.6"/>
<g clip-path="url(#c_sa)">
<path d="M294.1,503.4 292.8,508.1 291.4,512.2 292.1,515.6 295.5,518.3 300.2,520.3 304.3,521 305.7,524.4 305,528.5 304.3,531.9 307.7,534.6 311.1,533.9 313.8,531.9 312.4,528.5 313.8,526.4 318.5,525.8 321.9,524.4 324,522.4 321.9,519.7 322.6,516.9 324.6,514.9 324.6,505.4 298.9,504.1Z" fill="#2076b3" stroke="#fff" stroke-width="1.1"/>
<path d="M324.6,514.9 322.6,516.9 321.9,519.7 324,522.4 326,524.4 325.3,527.8 326.7,531.2 330.1,532.5 332.8,531.9 331.4,529.1 330.1,526.4 330.7,523 332.1,520.3 332.8,516.3 324.6,512.2Z" fill="#2076b3" stroke="#fff" stroke-width="1.1"/>
<path d="M332.1,520.3 330.7,523 330.1,526.4 331.4,529.1 332.8,531.9 334.8,530.5 338.9,530.5 339.5,527.1 339.3,523.7 339.3,520.3 332.8,519Z" fill="#2592be" stroke="#fff" stroke-width="1.1"/>
<path d="M339.3,520.3 339.3,523.7 339.5,527.1 338.9,530.5 342.9,530.5 345,527.1 346.3,524.1 346.3,520.3Z" fill="#dcdcdc" stroke="#fff" stroke-width="1.1"/>
<path d="M275.8,513.6 294.1,503.4 292.8,508.1 291.4,512.2 292.1,515.6 295.5,518.3 300.2,520.3 304.3,521 305.7,524.4 305,528.5 304.3,531.9 300.9,532.5 298.9,535.9 299.6,540 298.2,543.4 297.5,546.8 296.9,544.7 294.1,543.4 290.8,542.7 287.4,540.7 285.3,538 283.3,536.6 279.9,535.9 276.5,533.9 271.8,532.5Z" fill="#223f96" stroke="#fff" stroke-width="1.1"/>
<path d="M271.8,532.5 276.5,533.9 279.9,535.9 283.3,536.6 285.3,538 284,541.3 281.3,543.4 277.9,546.1 275.2,548.8 272.5,547.4 267.7,546.1 267.7,535.2Z" fill="#2070b0" stroke="#fff" stroke-width="1.1"/>
<path d="M267.7,549.5 272.5,547.4 275.2,548.8 277.9,546.1 281.3,543.4 284,541.3 285.3,538 287.4,540.7 290.8,542.7 294.1,543.4 296.9,544.7 297.5,546.8 294.1,549.5 290.8,552.2 289.1,556.2 290.1,560.3 292.8,562.3 295.5,565.1 297.5,563 300.9,566.4 301.6,571.8 300.9,577.3 300.2,581.3 298.9,584.7 297.5,586.7 292.1,586.7 267.7,556.9Z" fill="#238dbc" stroke="#fff" stroke-width="1.1"/>
<path d="M300.9,566.4 304.3,565.7 309,563.4 310.4,567.1 314.5,571.2 319.2,573.2 323.3,575.9 324.6,580 328.7,581.3 331.4,584.7 332.1,589.5 328.7,589.2 323.3,589.5 319.9,591.5 318.5,595.6 317.9,597.6 313.8,596.9 310.4,596.5 307,597.6 305,600.3 303,594.9 300.5,589.5 298.9,584.7 300.2,581.3 300.9,577.3 301.6,571.8Z" fill="#2287ba" stroke="#fff" stroke-width="1.1"/>
<path d="M319.9,591.5 323.3,589.5 328.7,589.2 332.1,589.5 332.8,593.5 333.4,596.9 336.8,598.9 339.5,600.3 340.9,608.1 338.9,610.8 334.1,612.9 330.1,611.5 331.4,608.1 328.7,605.4 324.6,602.7 320.6,600.7 317.9,597.6 318.5,595.6Z" fill="#2076b3" stroke="#fff" stroke-width="1.1"/>
<path d="M305,600.3 307,597.6 310.4,596.5 313.8,596.9 317.9,597.6 320.6,600.7 324.6,602.7 328.7,605.4 331.4,608.1 330.1,611.5 334.1,612.9 338.9,610.8 335.5,614.9 332.8,619 331.4,620.3 330.1,625.8 330.1,630.5 332.1,633.9 335.5,640.7 319.2,661 311.1,688.1 305.7,703 312.4,716.6 300.5,701.7 297.5,701 294.1,698.9 292.1,694.9 289.4,692.2 290.1,686.7 291.4,681.3 292.8,674.5 294.1,667.8 293.7,661 294.1,654.2 294.8,647.4 296.2,640.7 297.3,633.9 297.5,627.1 298.2,620.3 299.6,614.9 301.6,609.5 303.6,604.1Z" fill="#238dbc" stroke="#fff" stroke-width="1.1"/>
<path d="M331.4,620.3 334.1,621.7 338.9,625.1 342.3,628.5 346.3,631.2 340.9,639.3 332.1,636.6 330.1,630.5 330.1,625.8Z" fill="#2592be" stroke="#fff" stroke-width="1.1"/>
<path d="M300.5,701.7 298.2,703.7 297.5,707.1 300.9,709.8 304.3,712.5 311.8,715.2 311.8,701Z" fill="#238dbc" stroke="#fff" stroke-width="1.1"/>
<path d="M297.5,586.7 298.9,584.7 300.5,589.5 303,594.9 305,600.3 303.6,604.1 301.6,609.5 299.6,614.9 298.2,620.3 297.5,627.1 297.3,633.9 296.2,640.7 294.8,647.4 294.1,654.2 293.7,661 294.1,667.8 292.8,674.5 291.4,681.3 290.1,686.7 289.4,692.2 292.1,694.9 294.1,698.9 297.5,701 300.5,701.7 298.2,703.7 297.5,707.1 300.9,709.8 304.3,712.5 298.9,719.3 278.6,708.4 278.6,654.2 292.1,600Z" fill="#207bb5" stroke="#fff" stroke-width="1.1"/>
</g>
<path d="M278.6,515.6 280.6,512.2 284,508.8 288,507.5 291.4,506.1 294.1,504.7 292.8,508.1 292.1,510.8 293.5,513.6 295.5,512.9 296.2,509.5 298.2,507.5 303,508.8 308.4,510.2 313.8,510.2 318.5,509.5 321.9,509.5 323.3,512.2 324.6,514.9 328,516.9 331.4,519.7 334.1,521.7 338.9,522.4 342.9,522 346.3,523.7 348.4,527.1 349.7,530.5 351.1,533.9 354.5,537.3 358.5,540 363.9,541.3 369.4,543.4 374.8,544.7 380.2,546.1 385.6,548.8 389.7,552.2 391.7,556.2 391.1,561 389,565.7 386.3,569.8 382.9,573.9 380.9,578.6 380.2,584 378.9,589.5 376.1,593.5 372.1,596.9 366.7,599.6 366,600 359.9,602.7 355.8,606.8 354.5,612.2 353.1,617.6 349.7,622.4 346.3,625.8 343.6,629.1 342.3,631.9 338.9,634.6 334.8,635.2 332.1,633.9 330.1,635.9 331.4,639.3 332.5,642.7 330.7,646.1 327.3,647.4 323.3,648.1 319.2,649.5 317.9,652.9 317.2,655.6 313.8,656.9 311.8,659 312.4,662.3 310.4,663.7 309.7,667.8 308.4,670.5 305.7,673.9 305.7,676.6 307.7,679.3 308.4,682.7 305.7,685.4 303.6,688.8 300.9,692.8 299.6,696.2 300.5,699.6 303,701 302.3,705 304.3,708.4 307.7,710.5 309.7,712.5 305.7,713.9 301.6,714.5 297.5,713.2 293.5,710.5 290.1,707.1 288,704.4 288.7,701 286.7,697.6 285.3,693.5 285.3,688.1 286,682.7 287.4,678.6 285.3,677.3 286.7,673.2 288.7,669.1 287.8,665.1 288,661 289.1,654.2 289.7,647.4 290.8,640.7 292.1,633.9 293.5,627.1 294.8,620.3 295.5,613.6 296.4,606.8 297.5,600 298.9,594.9 298.2,589.5 296.9,585.4 292.1,582 286.7,578.6 282.6,575.2 280.6,570.5 277.9,565.1 275.2,559.6 271.8,554.2 269.7,549.5 271.1,546.8 270.4,543.4 271.1,539.3 273.1,535.2 276.5,531.2 277.9,525.8 278.6,520.3Z" fill="none" stroke="#fff" stroke-width="0.9"/>
<path d="M323.3,698.9 326,697.6 329.4,697.3 328.7,698.9 325.3,700Z" fill="#33a5c2" stroke="none" stroke-width="0.6"/>
<path d="M470.7,435.7 476.8,435.7 480.1,436.3 484.2,434.3 489.6,432.7 495.1,431.6 500.5,431.3 505.9,430.9 510,430.5 512.7,431.6 511.3,434.3 513.4,437 512,441.1 514.7,443.8 514,446.5 516.7,444.9 520.1,445.8 524.9,447.9 530.3,450.6 534.4,451.9 537.1,450.6 538.4,447.2 541.8,445.8 546.6,446.5 550.6,448.5 550.6,448.5 554.4,449.2 559.8,449.9 565.2,449.2 570,449.9 573.4,449.2 576.8,450.6 577.4,454.6 575.8,460.3 572.7,456 570.7,453.6 573.4,458.7 576.1,464.1 578.8,469.5 581.5,475 582.9,477 584.2,481.7 585.6,485.8 586.2,488.5 588.3,492.6 591.7,496 595.1,499.4 597.8,502.8 599.1,505.5 603.2,507.5 608.6,506.8 614,505.9 619.5,505.1 620,504.5 620.2,506.7 617.6,511 613.4,516.1 608.2,521.2 603.1,527.2 598.9,534 595.4,539.1 592,543.4 589.5,547.7 588.6,551.1 587.8,556.2 589.5,561.3 591.2,566.4 591.5,569.9 592,575 589.5,580.1 584.4,585.2 579.2,589.5 576.7,593.8 577.5,598 576.7,603.1 572.4,605.7 572.1,609.1 570.7,613.4 569,617.6 564.7,623.6 560.5,627.9 555.3,631.3 550.2,632.2 543.4,633 537.4,634.7 534.9,632.2 534,627.9 531.4,622.8 528.9,615.9 527.2,610.8 524.6,604 521.2,597.2 518.6,590.3 515.7,584.4 516.1,581.8 517.8,576.7 520.3,571.6 521.2,566.4 519.5,561.3 518.6,556.2 516.9,553.6 515.2,550.2 512.7,546.8 510.1,543.4 508.4,539.1 510.1,535.7 509.6,533.2 509.3,530.6 508.4,527.2 506.7,524.6 504.1,525.5 499,523.8 493.9,520.4 487.1,521.2 480.2,522.1 470,522.9 470.7,523.5 463.3,524.3 459.1,522.4 455.8,520 453,517.7 450.3,515 447.6,511.6 444.9,508.9 442.9,506.1 440.2,503.4 439.5,499.4 440.2,496 440.8,492.6 441.5,488.5 440.8,484.5 439.5,479.7 440.2,477 442.2,473.6 444.2,469.5 446.3,465.5 448.3,462.8 451.7,461.4 455.1,459.4 457.1,456.7 459.1,453.3 460.5,449.2 462.5,445.1 465.2,441.8 468,438.4Z" fill="#33a5c2" stroke="none" stroke-width="0.6"/>
<g clip-path="url(#c_af)">
<path d="M468,433 476.8,434.3 480.1,436.3 478.8,441.1 479.5,444.5 476.1,447.2 472,449.2 467.3,451.9 463.2,454.6 461.2,457.3 460.9,460.7 455.1,460.1 450.3,458.7 457.1,446.5Z" fill="#2695be" stroke="#16222e" stroke-width="1.1"/>
<path d="M450.3,458.7 455.1,460.1 460.9,460.7 461.2,464.1 457.1,464.8 453.7,466.2 453,470.9 450.3,473.6 449,477.4 440.2,477.9 435.4,479 438.1,468.2Z" fill="#dcdcdc" stroke="#16222e" stroke-width="1.1"/>
<path d="M480.1,436.3 484.2,433 495.1,429.6 510,428.9 508.6,433.6 505.9,438.4 504.5,441.8 506.6,445.1 509.3,448.5 511.3,451.9 511.1,457.3 511.3,462.8 510,465.5 512.7,469.5 516.1,472.3 511.3,475 505.9,478.4 500.5,481.7 495.1,485.5 489.6,483.1 484.2,479.7 477.4,475 470.7,470.2 465.2,466.2 461.4,462.8 460.9,460.7 461.2,457.3 463.2,454.6 467.3,451.9 472,449.2 476.1,447.2 479.5,444.5 478.8,441.1Z" fill="#68c4be" stroke="#16222e" stroke-width="1.1"/>
<path d="M510,428.9 516.7,431.6 516.7,446.5 514,446.5 511.3,449.2 511.1,451.9 509.3,448.5 506.6,445.1 504.5,441.8 505.9,438.4 508.6,433.6Z" fill="#40b0c2" stroke="#16222e" stroke-width="1.1"/>
<path d="M514,446.5 516.7,443.8 552,443.8 550.6,448.5 550.4,454.6 550.6,462.8 550.6,470.9 550.4,479 550.4,481.7 547.2,483.8 541.1,480.4 534.4,477 527.6,474.3 523.5,475 520.8,473.6 516.1,472.3 512.7,469.5 510,465.5 511.3,462.8 511.1,457.3 511.3,451.9 511.3,449.2Z" fill="#dcdcdc" stroke="#16222e" stroke-width="1.1"/>
<path d="M550.6,446.5 576.8,448.5 577.4,454.6 576.8,459.8 570.7,460.1 573.4,458.7 576.1,464.1 578.8,469.5 581.5,475 584.2,477 550.6,477Z" fill="#48b5c2" stroke="#16222e" stroke-width="1.1"/>
<path d="M550.6,477 584.2,477 586.9,483.1 588.3,489.9 585.6,488.5 583.5,489.9 581.5,492.6 582.2,495.3 580.8,498 578.8,502.1 576.8,506.1 574.7,510.2 572,507.5 570.7,504.8 569.3,506.1 566.6,509.5 562.5,511.6 557.1,512.2 553,512.9 549.7,510.2 546.9,511.6 544.2,508.9 545.6,506.1 543.6,502.1 544.9,498 546.9,495.3 547.3,489.9 547.6,483.8 550.6,481.7Z" fill="#3aacc2" stroke="#16222e" stroke-width="1.1"/>
<path d="M582.2,495.3 581.5,492.6 583.5,489.9 585.6,488.5 589.6,489.9 600.5,502.1 597.8,503.4 596.4,503.4 592.3,500 588.3,498 584.2,498Z" fill="#dcdcdc" stroke="#16222e" stroke-width="1.1"/>
<path d="M435.4,479 440.2,477.9 449,477.4 450.3,473.6 453,470.9 453.7,466.2 457.1,464.8 461.2,464.1 461.4,462.8 465.2,466.2 468.6,468.2 469.3,476.3 469.7,487.2 470,495.3 461.2,495.6 453.7,496 451.7,497.3 449,494.6 444.9,492.6 441.5,492.6 436.8,493.9Z" fill="#45b4c2" stroke="#fff" stroke-width="1.1"/>
<path d="M468.6,468.2 470.7,470.2 477.4,475 484.2,479.7 489.6,483.1 495.1,485.5 494.8,491.2 493.7,495.3 488.3,496.7 484.2,497.3 480.8,499.4 477.4,502.1 473.4,503.4 471.3,507.5 469.3,510.2 466.6,509.5 463.9,506.1 462.5,503.4 459.1,502.1 455.1,501.4 453,498 453.7,496 461.2,495.6 470,495.3 469.7,487.2 469.3,476.3Z" fill="#33a5c2" stroke="#fff" stroke-width="1.1"/>
<path d="M495.1,485.5 500.5,481.7 505.9,478.4 511.3,475 516.1,472.3 520.8,473.6 523.5,475 524.9,479 525.6,487.2 524.2,492.6 522.2,496.7 523.5,500.7 519.5,502.1 514,501.4 508.6,502.1 503.2,501.4 497.8,500.7 495.1,502.1 493.7,504.8 491,503.4 489.6,501.4 486.2,499.4 488.3,496.7 493.7,495.3 494.8,491.2Z" fill="#3daec2" stroke="#fff" stroke-width="1.1"/>
<path d="M523.5,475 527.6,474.3 534.4,477 541.1,480.4 547.2,483.8 546.8,489.9 546.6,495.3 544.5,498 543.2,502.1 545.2,506.1 542.5,508.9 538.4,510.9 534.4,512.9 530.3,515 526.9,514.3 524.9,510.2 523.5,506.1 524.2,503.4 523.5,500.7 522.2,496.7 524.2,492.6 525.6,487.2 524.9,479Z" fill="#2d9fc1" stroke="#fff" stroke-width="1.1"/>
<path d="M436.8,496 441.5,492.6 444.9,492.6 449,494.6 451.7,497.3 453,498 455.1,501.4 451.7,502.1 447.6,501.8 443.6,502.1 440.2,503.4 436.8,503.4Z" fill="#2b9cc0" stroke="#fff" stroke-width="1.1"/>
<path d="M439.5,499.8 447.6,500 447.6,501.3 439.5,501.1Z" fill="#fff" stroke="#fff" stroke-width="0.4"/>
<path d="M438.1,503.4 443.6,502.1 447.6,501.8 446.9,504.1 443.6,505.5 440.8,506.8Z" fill="#38aac2" stroke="#fff" stroke-width="1.1"/>
<path d="M443.6,505.5 446.9,504.1 447.6,501.8 451.7,502.1 455.1,501.4 459.1,502.1 462.5,503.4 461.9,507.5 461.9,511.6 459.8,512.9 457.1,510.2 454.4,508.9 451.7,508.2 449,510.2 446.3,510.2 442.9,508.9Z" fill="#59bec0" stroke="#fff" stroke-width="1.1"/>
<path d="M446.3,510.2 449,510.2 451.7,508.2 454.4,508.9 455.1,512.9 452.4,515.6 449,516.3Z" fill="#35a8c2" stroke="#fff" stroke-width="1.1"/>
<path d="M452.4,515.6 455.1,512.9 457.1,510.2 459.8,512.9 461.9,511.6 463.2,514.3 463.9,525.1 453,521.1Z" fill="#35a8c2" stroke="#fff" stroke-width="1.1"/>
<path d="M462.5,503.4 463.9,506.1 466.6,509.5 469.3,510.2 472,511.6 474.7,510.2 476.1,507.5 476.8,514.3 477.4,525.1 463.9,525.1 463.2,514.3 461.9,511.6 461.9,507.5Z" fill="#31a3c1" stroke="#fff" stroke-width="1.1"/>
<path d="M471.3,507.5 473.4,503.4 477.4,502.1 480.8,499.4 484.2,497.3 486.2,499.4 489.6,501.4 491,503.4 488.3,506.1 484.2,506.8 481.5,507.5 476.1,507.5 474.7,510.2 472,511.6 469.3,510.2Z" fill="#2b9cc0" stroke="#fff" stroke-width="1.1"/>
<path d="M476.1,507.5 481.5,507.5 484.2,506.8 486.9,507.5 488,512.9 488.6,525.1 477.4,525.1 476.8,514.3Z" fill="#217eb7" stroke="#fff" stroke-width="1.1"/>
<path d="M486.9,507.5 489,508.9 490.3,511.6 490.3,525.1 488.6,525.1 488,512.9Z" fill="#2184b9" stroke="#fff" stroke-width="1.1"/>
<path d="M488.3,506.1 491,503.4 493.7,504.8 493.7,510.2 493,514.3 492.3,525.1 490.3,525.1 490.3,511.6 489,508.9Z" fill="#33a5c2" stroke="#fff" stroke-width="1.1"/>
<path d="M495.1,502.1 497.8,500.7 503.2,501.4 508.6,502.1 514,501.4 519.5,502.1 523.5,500.7 524.2,503.4 523.5,506.1 521.2,506.7 519.5,510.1 516.1,515.2 511,519.5 508.4,523.8 504.1,528.9 492.2,527.2 484.5,522.1 493,514.3 493.7,510.2 493.7,504.8Z" fill="#38aac2" stroke="#fff" stroke-width="1.1"/>
<path d="M521.2,506.7 522.9,511 521.2,514.4 524.6,518.7 525.5,523.8 524.6,527.2 519.5,528 514.4,528 510.1,528.9 506.7,530.6 505,524.6 508.4,523.8 511,519.5 516.1,515.2 519.5,510.1Z" fill="#2070b0" stroke="#fff" stroke-width="1.1"/>
<path d="M523.5,506.1 524.9,510.2 526.9,514.3 524.6,518.7 521.2,514.4 522.9,511 521.2,506.7Z" fill="#2070b0" stroke="#fff" stroke-width="1.1"/>
<path d="M524.6,518.7 528.9,516.1 534.9,515.2 540,511.8 545.1,510.1 548.5,512.7 551.9,516.9 555.3,521.2 551.9,522.9 546.8,522.1 541.7,523.8 536.6,522.9 534,525.5 529.7,523.8 525.5,523.8Z" fill="#2076b3" stroke="#fff" stroke-width="1.1"/>
<path d="M548.5,512.7 551.9,510.1 558.8,511 565.6,510.1 570.7,509.3 572.4,512.7 575.8,517.8 579.2,522.1 575.8,523.8 570.7,524.6 565.6,522.9 560.5,523.8 555.3,521.2 551.9,516.9Z" fill="#207bb5" stroke="#fff" stroke-width="1.1"/>
<path d="M572.4,512.7 574.1,508.4 576.7,505 582.2,495.3 584.2,498 588.3,498 592.3,500 596.4,503.4 597.8,506.1 601.4,510.1 611.7,516.1 606.5,521.2 599.7,523.8 592.9,526.3 587.8,527.2 582.6,524.6 579.2,522.1 575.8,517.8Z" fill="#38aac2" stroke="#fff" stroke-width="1.1"/>
<path d="M596.4,503.4 597.8,502.8 599.8,505.5 597.8,506.8Z" fill="#228abb" stroke="#fff" stroke-width="1.1"/>
<path d="M611.7,516.1 601.4,510.1 598.9,505.9 604.8,507.6 611.7,506.7 621.9,503.3 623.6,511.8 599.7,542.5 595.4,539.1 593.7,535.7 593.2,530.6 592.9,526.3 599.7,523.8 606.5,521.2Z" fill="#2fa1c1" stroke="#fff" stroke-width="1.1"/>
<path d="M579.2,522.1 582.6,524.6 587.8,527.2 592.9,526.3 593.2,530.6 593.7,535.7 595.4,539.1 596.3,544.3 589.5,546.8 582.6,542.5 576.7,538.3 574.1,535.7 575.8,530.6 576.7,526.3 575.8,523.8Z" fill="#248fbd" stroke="#fff" stroke-width="1.1"/>
<path d="M565.6,528.9 570.7,524.6 575.8,523.8 576.7,526.3 575.8,530.6 574.1,535.7 570.7,537.4 566.4,538.3 564.7,536.6 565.6,532.3Z" fill="#2184b9" stroke="#fff" stroke-width="1.1"/>
<path d="M566.4,538.3 570.7,537.4 574.1,535.7 576.7,538.3 582.6,542.5 589.5,546.8 596.3,547.7 596.3,566.4 591.2,566.4 586.1,568.2 579.2,569 575.8,567.3 573.3,563 570.7,559.6 567.3,557.9 564.7,554.5 563.5,549.4 563.9,547.7 566.4,546.8 566.6,542.9 566.9,542.2Z" fill="#248fbd" stroke="#fff" stroke-width="1.1"/>
<path d="M534,525.5 536.6,522.9 541.7,523.8 546.8,522.1 551.9,522.9 555.3,521.2 560.5,523.8 565.6,522.9 570.7,524.6 565.6,528.9 565.6,532.3 564.7,536.6 563,540 563.5,543.9 563.5,549.4 564.7,554.5 567.3,557.9 563,559.6 561.3,563 562.2,568.2 564.7,570.7 561.3,571.6 557,569 553.6,567.3 548.5,566.4 545.1,567.3 543.4,563 542.5,557.1 536.6,556.2 533.2,557.9 528.9,554.5 524.6,553.6 518.6,554.5 516.1,553.6 521.2,550.2 524.6,547.7 528,542.5 529.7,537.4 532.3,532.3 533.2,528Z" fill="#2287ba" stroke="#fff" stroke-width="1.1"/>
<path d="M563,540 566.4,538.8 566.9,542.2 563.9,543.4Z" fill="#217eb7" stroke="#fff" stroke-width="0.5"/>
<path d="M563.5,543.9 566.6,542.9 566.4,546.8 563.9,547.7Z" fill="#299ac0" stroke="#fff" stroke-width="0.5"/>
<path d="M514.4,528 519.5,528 524.6,527.2 525.5,523.8 529.7,523.8 534,525.5 533.2,528 532.3,532.3 529.7,537.4 528,542.5 524.6,547.7 521.2,550.2 516.1,553.6 513.5,550.2 516.9,547.7 519.5,546 521.2,541.7 522.1,537.4 520.3,534.9 518.6,532.3 514.7,533.2Z" fill="#225ea8" stroke="#fff" stroke-width="1.1"/>
<path d="M506.7,534 514.7,533.2 518.6,532.3 520.3,534.9 522.1,537.4 521.2,541.7 519.5,546 516.9,547.7 513.5,550.2 507.5,546 505.8,539.1Z" fill="#2b9cc0" stroke="#fff" stroke-width="1.1"/>
<path d="M509.6,531.5 514,531.5 514,533.7 509.6,533.7Z" fill="#eee" stroke="#fff" stroke-width="0.6"/>
<path d="M516.1,553.6 518.6,554.5 524.6,553.6 528.9,554.5 533.2,557.9 536.6,556.2 542.5,557.1 543.4,563 545.1,567.3 548.5,566.4 548.9,570.7 545.1,571.6 544.2,576.7 545.1,582.7 547.7,585.2 541.7,586.1 534.9,585.2 526.3,583.9 519.5,584.4 512.7,584.4 514.4,569.9Z" fill="#2350a1" stroke="#fff" stroke-width="1.1"/>
<path d="M545.1,571.6 548.9,570.7 548.5,566.4 553.6,567.3 557,569 561.3,571.6 563.9,569.9 562.2,566.4 561.3,562.2 563,559.6 567.3,557.9 570.7,559.6 573.3,563 572.4,568.2 570.7,572.4 565.6,575 562.2,577.5 558.8,580.1 555.3,582.7 551.9,584.9 547.7,585.2 545.1,582.7 544.2,576.7Z" fill="#1f378d" stroke="#fff" stroke-width="1.1"/>
<path d="M573.3,563 575.8,567.3 576.7,572.4 578.4,576.7 576.7,580.1 575,576.7 574.1,572.4 572.4,568.2Z" fill="#2079b4" stroke="#fff" stroke-width="1.1"/>
<path d="M575.8,567.3 579.2,569 586.1,568.2 591.2,566.4 596.3,566.4 596.3,580.1 579.2,607.4 572.1,609.1 570.7,607.4 569.8,600.6 570.7,595.5 572.4,590.3 574.1,585.2 572.4,582.7 569,580.1 565.6,577.5 565.6,575 570.7,572.4 572.4,568.2 574.1,572.4 575,576.7 576.7,580.1 578.4,576.7 576.7,572.4Z" fill="#224499" stroke="#fff" stroke-width="1.1"/>
<path d="M551.9,584.9 555.3,582.7 558.8,580.1 562.2,577.5 565.6,577.5 569,580.1 572.4,582.7 574.1,585.2 572.4,590.3 570.7,595.5 567.3,597.2 563,598 558.8,595.5 555.3,590.3 553.6,586.9Z" fill="#2256a4" stroke="#fff" stroke-width="1.1"/>
<path d="M541.7,586.1 547.7,585.2 551.9,584.9 553.6,586.9 555.3,590.3 558.8,595.5 563,598 558.8,600.6 554.5,604 550.2,607.4 546,608.3 542.5,610.8 539.1,611.7 538.3,605.7 539.1,600.6 540,586.9Z" fill="#23469b" stroke="#fff" stroke-width="1.1"/>
<path d="M512.7,584.4 519.5,584.4 526.3,583.9 534.9,585.2 541.7,586.1 540,586.9 539.1,600.6 538.3,605.7 539.1,611.7 537.4,615.9 533.2,617.6 529.4,616.8 524.6,617.6 514.4,593.8Z" fill="#1b2f82" stroke="#fff" stroke-width="1.1"/>
<path d="M529.4,616.8 533.2,617.6 537.4,615.9 539.1,611.7 542.5,610.8 546,608.3 550.2,607.4 554.5,604 558.8,600.6 563,598 567.3,597.2 569.8,600.6 570.7,607.4 572.1,609.1 575.8,610.8 572.4,624.5 555.3,638.1 534.9,638.1 528,624.5Z" fill="#0f2367" stroke="#fff" stroke-width="1.1"/>
<path d="M557,618.5 559.6,616.8 561.8,618.5 561.3,621.4 558.8,622.8 556.7,621.1Z" fill="#2076b3" stroke="#fff" stroke-width="0.8"/>
<path d="M566.6,609.1 568.3,608.3 569.7,609.6 569.3,611.8 567.3,612.2Z" fill="#224197" stroke="#fff" stroke-width="0.8"/>
</g>
<path d="M470.7,435.7 476.8,435.7 480.1,436.3 484.2,434.3 489.6,432.7 495.1,431.6 500.5,431.3 505.9,430.9 510,430.5 512.7,431.6 511.3,434.3 513.4,437 512,441.1 514.7,443.8 514,446.5 516.7,444.9 520.1,445.8 524.9,447.9 530.3,450.6 534.4,451.9 537.1,450.6 538.4,447.2 541.8,445.8 546.6,446.5 550.6,448.5 550.6,448.5 554.4,449.2 559.8,449.9 565.2,449.2 570,449.9 573.4,449.2 576.8,450.6 577.4,454.6 575.8,460.3 572.7,456 570.7,453.6 573.4,458.7 576.1,464.1 578.8,469.5 581.5,475 582.9,477 584.2,481.7 585.6,485.8 586.2,488.5 588.3,492.6 591.7,496 595.1,499.4 597.8,502.8 599.1,505.5 603.2,507.5 608.6,506.8 614,505.9 619.5,505.1 620,504.5 620.2,506.7 617.6,511 613.4,516.1 608.2,521.2 603.1,527.2 598.9,534 595.4,539.1 592,543.4 589.5,547.7 588.6,551.1 587.8,556.2 589.5,561.3 591.2,566.4 591.5,569.9 592,575 589.5,580.1 584.4,585.2 579.2,589.5 576.7,593.8 577.5,598 576.7,603.1 572.4,605.7 572.1,609.1 570.7,613.4 569,617.6 564.7,623.6 560.5,627.9 555.3,631.3 550.2,632.2 543.4,633 537.4,634.7 534.9,632.2 534,627.9 531.4,622.8 528.9,615.9 527.2,610.8 524.6,604 521.2,597.2 518.6,590.3 515.7,584.4 516.1,581.8 517.8,576.7 520.3,571.6 521.2,566.4 519.5,561.3 518.6,556.2 516.9,553.6 515.2,550.2 512.7,546.8 510.1,543.4 508.4,539.1 510.1,535.7 509.6,533.2 509.3,530.6 508.4,527.2 506.7,524.6 504.1,525.5 499,523.8 493.9,520.4 487.1,521.2 480.2,522.1 470,522.9 470.7,523.5 463.3,524.3 459.1,522.4 455.8,520 453,517.7 450.3,515 447.6,511.6 444.9,508.9 442.9,506.1 440.2,503.4 439.5,499.4 440.2,496 440.8,492.6 441.5,488.5 440.8,484.5 439.5,479.7 440.2,477 442.2,473.6 444.2,469.5 446.3,465.5 448.3,462.8 451.7,461.4 455.1,459.4 457.1,456.7 459.1,453.3 460.5,449.2 462.5,445.1 465.2,441.8 468,438.4Z" fill="none" stroke="#fff" stroke-width="0.8"/>
<path d="M470.7,435.7 476.8,435.7 480.1,436.3 484.2,434.3 489.6,432.7 495.1,431.6 500.5,431.3 505.9,430.9 510,430.5 512.7,431.6 511.3,434.3 513.4,437 512,441.1 514.7,443.8 514,446.5 516.7,444.9 520.1,445.8 524.9,447.9 530.3,450.6 534.4,451.9 537.1,450.6 538.4,447.2 541.8,445.8 546.6,446.5 550.6,448.5 550.6,448.5 554.4,449.2 559.8,449.9 565.2,449.2 570,449.9 573.4,449.2 576.8,450.6 577.4,454.6 575.8,460.3 572.7,456 570.7,453.6 573.4,458.7 576.1,464.1 578.8,469.5 581.5,475 582.9,477 584.2,481.7 585.6,485.8 586.2,488.5" fill="none" stroke="#16222e" stroke-width="0.6"/>
<path d="M601.4,600.6 600.6,595.5 602.3,588.6 604.8,583.5 608.2,580.1 612.5,576.7 615.1,572.4 616.4,570.7 617.6,575 616.8,581.8 615.1,588.6 612.5,595.5 610,601.4 607.4,605.7 604.8,606.9 602.3,604.8Z" fill="#2184b9" stroke="#fff" stroke-width="0.8"/>
<path d="M553,265 560.5,263.8 566.8,267.5 565,272.5 563.5,276.2 570.5,275.5 578,278.8 585.5,283.8 591.8,290 593,296.2 589.2,300 583,298.8 575.5,296.2 573,300 576.8,305 578,312.5 581.8,313.8 583,308.8 589.2,310 593,302.5 598,300 603,297.5 601.8,292.5 601,286.2 605.5,285 608,288 606,293.8 608,296.2 613,292.5 620.5,287.5 626.8,283 630.5,285 636.8,283.8 644.2,282.5 645.5,276.2 651.8,276.2 660.5,281.2 668,287.5 666.8,280 663.5,275 662.5,267.5 665.5,260 668,251.2 670.5,248.8 676.8,250 675.5,260 678,270 678.5,280 676.8,290 674.2,297.5 676.8,300 683,292.5 684.2,285 681.8,280 681.8,270 680,262.5 683,257.5 684.2,251.2 685.5,260 688,256.2 695.5,254.5 700.5,257.5 699.2,250 700,242.5 705.5,240 714.2,238.8 715.5,231.2 721.8,226.2 729.2,222.5 734.2,218.8 741.8,217.5 747,213.8 747,213.8 753.2,208.8 755.8,202.5 762,199.5 765,202.5 764.5,207 769.5,212.5 777,210.5 783.2,213.8 786.5,220 785.8,226.2 780.8,231.2 775.8,236.2 779.5,239.5 784.5,241.2 787,243.8 793.2,242 800.8,243 807,247.5 812.5,248 814,243 820.8,243 825.8,248.8 827,257.5 830.8,262.5 834.5,266.2 837,260 843.2,262 849.5,260 854.5,262 856.5,257.5 855.8,252.5 859.5,250 867,251.2 875.8,253.8 882,257.5 885.8,262.5 890.8,266.2 897,266.2 903.2,265.5 908.2,270 909.5,276.2 915.8,277 922,276.2 929.5,278.8 934.5,282.5 939,278.8 937,273.8 944.5,275 952,275 958.2,277.5 962,280 964,283.8 969.5,288.8 975.8,292.5 978.2,297.5 982,295.5 987,298.8 989,302.5 983.2,305.5 980.8,311.2 975.8,307.5 969.5,303.8 964.5,300 962,302.5 961.5,308.8 957,311.2 959.5,317.5 960.8,322.5 954.5,325 947,328.8 942,332.5 938.2,335 933.2,333.8 927,335 922,337.5 919.5,342.5 917.7,340 917.1,348.7 915.5,357.3 910.1,366 904.7,372.5 901.9,376.9 900.4,370.4 898.8,360.6 901.4,353 905.8,346.5 912.3,340 909.5,343.8 914.5,337.5 919.5,330 920.8,323.8 917,322.5 909.5,326.2 903.2,330 897,335 894.5,338.8 887,341.2 879.5,338.8 869.5,341.2 859.5,346.2 852,352.5 844.5,360 845.1,360.6 844,362.8 849.4,364.9 854.8,366 858.1,370.4 859.2,376.9 858.1,383.4 855.9,389.9 852.7,396.4 848.3,401.8 844,406.1 839.6,408.3 836.8,409.4 834.2,410.5 831,414.8 827.7,420.2 826.6,423.5 828.1,428.9 828.1,435.4 824.5,438.7 820.8,439.3 820.1,433.3 818,426.7 816.4,421.3 810.4,420.2 806,423.5 801.7,422.4 797.3,425.7 798.4,428.9 803.9,430 809.3,427.8 807.1,432.2 802.8,436.5 801.7,441.9 804.9,446.3 807.1,452.8 808.2,458.2 804.9,464.7 800.6,470.1 795.2,473.4 788.7,476.6 782.8,478.4 779.2,480.6 775.6,478.4 771,478.4 769.2,481.2 767.4,485.7 770.1,490.2 772.8,494.7 774.1,500.1 772.8,504.6 770.1,508.3 765.6,511.9 762.9,509.2 758.4,507.4 755.7,503.7 751.2,504.6 750.2,509.2 750.1,512.1 752.1,516.1 754.1,520.2 757.1,521.2 759.1,525.2 761.1,530.2 760.1,533.8 758.1,532.2 755.1,528.2 752.1,523.2 749.1,518.2 746.1,512.1 744.5,505.1 746.6,500.1 745.7,494.7 743.9,491.1 741.2,494.7 737.6,492.9 734.9,488.4 732.2,483 731.3,478.4 728.6,475.7 724,476.6 720.4,477.5 716.8,479.3 712.3,483 707.8,486.6 702.4,491.1 698.7,494.7 697.8,500.1 696.9,506.5 695.1,512.8 692.4,516 689.7,513.7 686.1,508.3 683.4,501.9 680.7,494.7 678.9,487.5 678,482.1 672.5,479.3 669.8,476.6 667.1,474.8 665.3,471.2 661.7,469 654.5,468.5 648.1,467.6 642.5,467.5 637.1,465.5 635.4,462.5 633.7,463.2 630.3,463.4 626,461.7 622.2,458 617.8,454.4 613.4,451.7 611.1,453.6 613.4,457.3 615.7,461.4 617.8,465.5 619.7,468.9 621.1,466.2 622.7,466.4 623.5,469.5 623.8,472 625.6,473.3 628.9,472.5 631.9,470.6 633.7,467.5 635,468.9 638.4,470.9 641.8,473.6 643.2,476.3 640.5,479.7 637.1,483.1 634.4,485.8 630.3,489.2 624.9,491 619.5,493.3 614,496 608.6,498.7 603.9,500.7 600.5,502.8 599.8,499.6 597.8,496 595.6,491.9 592.6,487.8 589.9,482.4 586.7,477 584.2,471.6 581.2,466.2 578.1,461.4 576.6,458.7 577.4,454.6 576.8,450.6 578.1,448.5 578.8,446.5 580.1,443.8 581.5,439.7 582.2,435.7 580.1,432.3 576.1,431.6 572,433 568,431.6 563.9,433 560.5,431.6 557.8,429.6 555.8,426.9 556.4,424.1 557.5,416.6 556,415.2 553.9,416.6 551.1,415.9 548.3,416.6 547.6,418 548.3,420.8 546.2,423.7 546.9,426.5 544.1,427.2 545.5,430 544.1,432.8 542,430 539.2,427.2 537.1,423.7 535.7,420.1 535,416.6 532.9,413.8 529.3,411 525.8,407.5 523,404 521.6,401.2 520.2,399.1 518.1,401.2 518.8,404.7 520.2,408.9 523,412.4 526.5,415.2 530,417.6 532.2,420.1 529.1,419.4 528.2,421.8 529.3,424.4 528.2,426.5 527.2,423.7 524.4,420.8 520.9,418.7 516.7,414.5 513.2,410.3 511.1,406.1 508.3,403.3 505.4,404 503.3,406.1 502.6,408.2 499.1,409.6 495.6,410.3 492.8,411.7 492.1,413.8 489.3,416.6 486.5,420.1 484.4,423.7 482.3,427.2 478,430.7 473.1,432.8 469.6,434.2 466.1,432.1 461.9,430.7 459.8,425.8 460.5,420.1 459.1,414.5 459.8,409.6 466.1,407.5 473.1,408.2 479.4,409.2 478.7,404.7 478,399.1 475.9,394.8 473.1,392 472.4,389.2 472.4,389.6 476.2,388.1 480,387.3 482.2,385.1 484.5,386.6 488.3,384.3 491.3,382.1 493.5,379.8 495.8,376.1 498.8,371.5 501.1,369.3 504.8,367.8 507.1,366.3 507.5,363.3 507.1,357.2 507.8,352.7 510.8,349.7 512.7,348.9 512.3,353.5 513.1,358 513.9,361.7 515.4,364 519.1,364.8 522.9,364 528.9,362.5 534.9,361 539.5,361.7 541.7,358 541,353.5 544,350.5 547.7,351.2 550,348.2 547,345.2 547.7,341.4 552.3,339.9 557.5,339.5 561.3,336.9 559,335.4 554.5,336.1 550,336.9 545.5,337.7 542.5,333.9 541,328.6 541.7,322.6 544,316.6 547,310.5 550,306 550.8,303 547.7,301.5 544,304.5 539.5,310.5 535.7,316.6 532.7,322.6 531.2,328.6 532.7,333.9 533.4,338.4 531.2,343.7 528.9,349.7 525.9,354.2 523.6,358 521.4,359.5 519.1,357.2 516.9,352.7 515.4,348.2 513.9,344.4 510.8,343.7 507.1,345.9 503.3,346.7 500.3,343.7 498.8,337.7 498,331.6 498.8,325.6 501.8,321.1 506.3,316.6 510.8,310.5 515.4,304.5 519.1,300 519.2,300 524.2,291.2 530.5,282.5 539.2,276.2 548,271.2Z" fill="#33a5c2" stroke="none" stroke-width="0.6"/>
<g clip-path="url(#c_ea)">
<path d="M609,390.7 610.8,383 615.2,378.5 621.9,376.3 628.5,377.4 636.2,379.6 643.9,378.5 646.1,371.9 648.4,367.5 655,364.2 661.6,362 668.2,359.8 673.8,362 674.9,365.3 680.4,367.5 687,364.2 690.3,367.5 693.6,373 698.1,377.9 703.6,379.6 710.2,383 715.7,386.3 712.4,389.6 710.2,394 705.8,396.2 703.6,400.6 699.2,402.8 697,406.1 696.5,409.5 690.3,410.1 683.7,409.5 678.2,411.7 672.7,412.8 669.3,415 666,417.2 662.7,412.8 658.3,408.4 652.8,407.3 647.3,402.8 640.6,401.7 634,402.8 633.3,408.4 634,413.9 630.7,415 626.3,411.7 623,407.3 621.9,401.7 624.1,398.4 620.7,396.2 615.2,397.3 611.9,399.5 609,397.3Z" fill="#64c3bf" stroke="#fff" stroke-width="0.8"/>
<path d="M715.7,386.3 721.3,384.1 727.9,380.7 734.5,383 741.1,384.1 745.6,375.2 752.2,377.4 758.8,380.7 767.6,383 775.4,386.3 782.8,384.5 788.2,383.6 793.3,384.8 793.6,389.9 797.2,391.7 801.8,394.4 799,397.1 793.6,398.9 788.2,400.7 782.8,402.5 779.2,407.1 773.7,410.7 766.5,413.4 759.3,413.4 752.1,412.5 744.8,410.7 738.5,407.1 732.2,402.5 725.8,398.9 721.3,393.5 717.7,388.1Z" fill="#48b5c2" stroke="#fff" stroke-width="0.8"/>
<path d="M717.7,388.1 721.3,393.5 725.8,398.9 732.2,402.5 738.5,407.1 744.8,410.7 752.1,412.5 759.3,413.4 766.5,413.4 773.7,410.7 779.2,407.1 782.8,402.5 788.2,400.7 793.6,398.9 799,397.1 801.8,394.4 797.2,391.7 793.6,389.9 793.3,384.8 795.2,384 800.6,380.1 803.9,372.5 809.3,368.2 814.7,368.2 820.1,372.5 823.4,380.1 826.6,385.5 833.1,388.8 838.6,391 842.9,389.4 841.8,395.3 838.6,401.8 834.2,404 833.1,409.4 832,410.5 826.6,413.7 820.1,417 816.4,421.3 810.4,422.4 823.4,448.4 814.7,478.8 780,491.8 775.6,482.1 775.6,478.4 772.8,478.1 769.2,476.6 764.7,473.9 760.2,474.8 755.7,476.6 752.1,475.7 748.4,471.2 745.7,468.5 744.8,464 743.9,459.5 740.3,456.8 735.8,455.8 730.4,456.8 724.9,457.7 720.4,460.4 715.9,459.5 708.7,456.8 702.4,453.1 699.6,450.4 695.1,445.9 693.3,441.4 691.5,436 688.8,432.4 685.2,427.8 682.5,423.3 685.2,420.6 687.9,417.9 690.6,413.4 694.2,410.7 697.5,408 697.8,403.4 701.4,402.5 705.1,398.9 706,395.3 708.7,394.4 712.3,392.6 715,389Z" fill="#2b9cc0" stroke="#fff" stroke-width="0.8"/>
<path d="M634,402.8 640.6,401.7 647.3,402.8 652.8,407.3 658.3,408.4 662.7,412.8 666,417.2 669.3,415 672.7,412.8 678.2,411.7 676,415 671.6,417.2 668.2,420.5 663.8,421.6 659.4,420.5 655,417.2 649.5,413.9 643.9,410.6 639.5,408.4 634,408.4Z" fill="#38aac2" stroke="#16222e" stroke-width="0.6"/>
<path d="M629.6,415 634,413.9 634,408.4 639.5,408.4 643.9,410.6 649.5,413.9 655,417.2 659.4,420.5 657.2,426 652.8,429.3 648.4,427.1 643.9,423.8 637.3,422.7 631.8,423.8 627.4,420.5Z" fill="#238dbc" stroke="#16222e" stroke-width="0.6"/>
<path d="M673.4,412.5 678.9,409.8 686.1,408.9 693.3,410.1 697.5,408 694.2,410.7 690.6,413.4 687.4,417.4 682.5,417.4 678,416.6 674.3,415.2Z" fill="#64c3bf" stroke="#16222e" stroke-width="0.6"/>
<path d="M667.1,417.9 673.4,417.4 678,416.6 682.5,417.4 685.2,420.6 682.5,423.3 678,423.3 673.4,422.4 668.9,421.5Z" fill="#3daec2" stroke="#16222e" stroke-width="0.6"/>
<path d="M647.2,438.7 649.9,434.2 654.5,432.4 657.2,427.8 662.6,428.7 667.1,426 671.6,424.2 674.3,427.8 677.1,429.6 682.5,427.5 681.6,430.5 677.1,431.4 673.4,432.4 674.3,436.9 670.7,441.4 667.1,445.9 662.6,449.5 657.2,452.2 650.8,454 647.2,451.3 646.3,445Z" fill="#dcdcdc" stroke="#16222e" stroke-width="0.6"/>
<path d="M647.2,471.2 649,460.4 650.8,454 657.2,452.2 662.6,449.5 667.1,445.9 670.7,441.4 674.3,436.9 673.4,432.4 677.1,431.4 681.6,430.5 685.2,427.8 688.8,432.4 691.5,436 688.8,439.6 685.2,441.4 682.5,445.9 680.7,451.3 677.1,455.8 672.5,460.4 671.6,465.8 673.4,469.4 669.8,471.2 667.1,476.6 658.1,474.8Z" fill="#56bcc1" stroke="#16222e" stroke-width="0.6"/>
<path d="M667.1,476.6 669.8,471.2 673.4,469.4 671.6,465.8 672.5,460.4 677.1,455.8 680.7,451.3 682.5,445.9 685.2,441.4 688.8,439.6 691.5,436 693.3,441.4 695.1,445.9 699.6,450.4 697.8,452.2 700.5,456.8 706.9,460.4 714.1,463.1 719.5,464 719.5,460.4 720.8,460.9 724.9,461.6 728.6,459.8 730.4,456.8 735.8,455.8 740.3,456.8 743.9,459.5 738.5,460.4 734,465.8 730.4,470.3 728.6,465.8 724,464.9 719.5,464 719.5,471.2 720.4,478.4 712.3,485.7 699.6,496.5 697.8,520 688.8,520 676.1,485.7Z" fill="#38aac2" stroke="#16222e" stroke-width="0.6"/>
<path d="M697.8,452.2 702.4,453.1 708.7,456.8 715.9,459.5 719.5,460.4 719.5,464 714.1,463.1 706.9,460.4 700.5,456.8Z" fill="#42b2c2" stroke="#16222e" stroke-width="0.6"/>
<path d="M720.8,458.9 724.9,457.7 728.6,459.5 724.9,461.3 721.3,460.9Z" fill="#60c1bf" stroke="#fff" stroke-width="0.7"/>
<path d="M719.5,464 724,464.9 728.6,465.8 730.4,470.3 732.2,480.2 719.5,480.2 719.5,471.2Z" fill="#45b4c2" stroke="#16222e" stroke-width="0.6"/>
<path d="M732.2,480.2 730.4,470.3 734,465.8 738.5,460.4 743.9,459.5 744.8,464 745.7,468.5 748.4,471.2 752.1,475.7 748.4,479.3 746.6,484.8 748.4,490.2 745.7,494.7 748.4,500.1 749.3,505.6 748.4,512.8 743,512.8 730.4,492.9Z" fill="#52bbc1" stroke="#16222e" stroke-width="0.6"/>
<path d="M748.4,479.3 752.1,475.7 753,481.2 757.5,483 761.1,482.1 764.7,487.5 762.9,492.9 758.4,494.7 757.5,499.2 757.1,502.8 758.4,507.4 752.1,505.6 752.1,514.6 754.1,520.2 751.1,520.2 746.1,512.1 744.5,505.1 748.4,512.8 749.3,505.6 748.4,500.1 745.7,494.7 748.4,490.2 746.6,484.8Z" fill="#38aac2" stroke="#fff" stroke-width="0.8"/>
<path d="M752.1,475.7 755.7,476.6 760.2,474.8 762.9,478.4 766.5,483.9 770.1,490.2 769.2,497.4 764.7,492.9 764.7,487.5 761.1,482.1 757.5,483 753,481.2Z" fill="#2897bf" stroke="#fff" stroke-width="0.8"/>
<path d="M760.2,474.8 764.7,473.9 769.2,476.6 772.8,478.1 777.4,478.4 777.4,507.4 764.7,514.6 762.9,509.2 766.5,507.4 770.1,502.8 769.2,497.4 770.1,490.2 766.5,483.9 762.9,478.4Z" fill="#31a3c1" stroke="#fff" stroke-width="0.8"/>
<path d="M757.5,499.2 758.4,494.7 762.9,497.4 769.2,497.4 770.1,502.8 766.5,507.4 762.9,509.2 758.4,507.4 757.1,502.8Z" fill="#dcdcdc" stroke="#fff" stroke-width="0.8"/>
<path d="M751.1,520.2 754.1,520.2 757.1,521.2 759.1,525.2 762.1,530.2 760.1,535.2 757.1,532.2 754.1,528.2 751.7,523.2Z" fill="#248fbd" stroke="#fff" stroke-width="0.6"/>
<path d="M816.4,421.3 820.1,417 826.6,413.7 832,410.5 835.3,410.5 831,414.8 827.7,420.2 826.6,423.5 822.3,425.7 818,426.7 814.7,424.6Z" fill="#dcdcdc" stroke="#16222e" stroke-width="0.6"/>
<path d="M818,426.7 822.3,425.7 826.6,423.5 829.9,428.9 829.9,436.5 824.5,439.8 820.1,440.2 819,433.3Z" fill="#42b2c2" stroke="#16222e" stroke-width="0.6"/>
<path d="M549,374.6 554.3,375.2 560.2,375.8 565.6,377 569.7,374 573.3,376.4 578,379.9 583.9,382.9 589.8,384.7 590.4,388.2 588,392.4 585.7,394.7 579.2,397.1 572.1,401.2 565.1,397.9 562,396.4 559,390.4 556,390.4 550,388.1 544,385.8 545.5,382.1Z" fill="#77cabc" stroke="#16222e" stroke-width="0.5"/>
<path d="M548.4,365.1 551.4,364 552.5,361 554.3,358.6 557.9,357.5 560.8,356.3 563.8,357.5 566.2,359.8 567.3,364.6 570.9,368.7 568.5,371.7 569.7,374 565.6,377 560.2,375.8 554.3,375.2 549,374.6 547.8,371.7 548.4,368.1Z" fill="#80cdbb" stroke="#16222e" stroke-width="0.5"/>
<path d="M545.4,339.1 549.6,339.7 554.3,339.1 559.1,339.1 557.6,343.8 558.5,348 555.5,349.2 552,346.8 548.4,345.6 545.4,343.3Z" fill="#4fb9c1" stroke="#16222e" stroke-width="0.5"/>
<path d="M539.5,351.5 544.9,347.4 547.8,351.5 548.4,346.8 552,346.8 555.5,349.2 558.5,348 559.1,352.7 560.8,356.3 557.9,357.5 554.3,358.6 552,355.7 548.4,354.5 544.9,355.1 541.9,356.3 539.5,356.3Z" fill="#3aacc2" stroke="#16222e" stroke-width="0.5"/>
<path d="M540.1,356.3 544.9,355.1 548.4,354.5 552,355.7 554.3,358.6 552.5,361 551.4,364 548.4,365.1 545.4,364 544.9,361 540.7,361Z" fill="#33a5c2" stroke="#16222e" stroke-width="0.5"/>
<path d="M537.2,361.6 540.7,360.8 544.3,361.6 545.1,364 537.2,364.3Z" fill="#33a5c2" stroke="#fff" stroke-width="0.6"/>
<path d="M548,282 553,276.2 556.8,272.5 560.5,276.2 562,290 563.8,295.9 564.7,301.8 564.4,307.8 565.6,313.7 567.9,320.2 565.6,325.5 562.6,330.2 560.2,334.4 560.8,337.3 546,337.3 544.3,333.8 541.9,327.9 541.3,322 543.1,317.2 546.6,312.5 550.2,308.9 551.4,304.8 547.8,301.8 547.5,301.2 546.8,290 543,283.8Z" fill="#68c4be" stroke="#16222e" stroke-width="0.5"/>
<path d="M539.2,280 543,283.8 546.8,290 547.5,301.2 551.8,306.2 544.2,315 538,337.5 528,355 519.2,359.5 515.5,352.5 514.2,343.8 516.8,340 517.5,330 516.8,320 519.2,312.5 523,305 526.8,295 531.8,285 536.8,283.8Z" fill="#59bec0" stroke="#16222e" stroke-width="0.5"/>
<path d="M563.5,276.2 560.5,276.2 556.8,272.5 553,276.2 548,282 543,282.5 539.2,280 536.8,283.8 531.8,285 526.8,295 523,305 519.2,312.5 516.8,320 517.5,330 516.8,340 511.8,347.5 498,347.5 498,290 548,260 570.5,265Z" fill="#68c4be" stroke="#16222e" stroke-width="0.5"/>
<path d="M506.3,364 506.3,357.2 507.8,352 513.1,348.2 513.1,358 518.4,357.2 519.1,360.2 514.6,363.3 511.6,362.5Z" fill="#60c1bf" stroke="#16222e" stroke-width="0.5"/>
<path d="M522.4,364.6 527.1,362.8 534.2,362.2 537.8,364 545.1,364 548.4,365.1 548.4,368.1 547.8,371.7 549,374.6 548.4,378.8 546.6,383.5 543.7,385.9 538.9,384.7 534.2,383.5 529.5,381.1 524.7,378.8 523,372.8Z" fill="#60c1bf" stroke="#16222e" stroke-width="0.5"/>
<path d="M507.5,363.3 511.6,362.5 515.4,364 519.1,364.8 522.9,363.3 523.6,372.3 524.4,379.1 521.4,380.6 517.6,384.3 519.1,388.9 519.9,391.9 515.4,394.1 509.3,394.9 504.8,394.1 505.6,390.4 501.8,385.8 501.1,381.3 500.3,375.3 501.1,368.5 504.8,367Z" fill="#4cb7c1" stroke="#16222e" stroke-width="0.5"/>
<path d="M501.1,368.5 498,370.8 495,376.1 500.3,375.3Z" fill="#73c9bd" stroke="#16222e" stroke-width="0.5"/>
<path d="M492.8,379.8 495,376.1 500.3,375.3 501.1,381.3 497.3,380.6Z" fill="#70c7bd" stroke="#16222e" stroke-width="0.5"/>
<path d="M491.3,382.1 492.8,379.8 497.3,380.6 501.1,381.3 501.8,385.8 505.6,390.4 504.8,394.1 502.6,397.9 503.3,403.9 504.8,409.2 503.3,406.1 502.6,408.2 499.1,409.6 495.6,410.3 492.8,411.7 487.2,411 479.4,409.2 473.1,399.1 471.7,387.8 470.2,390.4 482.2,384.3Z" fill="#4cb7c1" stroke="#16222e" stroke-width="0.5"/>
<path d="M502.6,397.9 504.8,394.1 509.3,394.9 513.9,395.6 513.1,398.6 508.6,400.2 504.8,399.4Z" fill="#42b2c2" stroke="#fff" stroke-width="0.6"/>
<path d="M513.9,395.6 515.4,394.1 519.9,391.9 524.4,391.1 528.9,390.4 530.4,393.4 528.2,396.4 522.9,397.9 517.6,397.1Z" fill="#52bbc1" stroke="#16222e" stroke-width="0.5"/>
<path d="M517.6,384.3 521.4,380.6 524.4,379.1 528.9,381.3 533.4,383.6 530.4,387.3 525.9,388.9 521.4,388.1 519.1,388.9Z" fill="#73c9bd" stroke="#16222e" stroke-width="0.5"/>
<path d="M530.4,387.3 533.4,383.6 538,385.1 544,385.8 542.5,388.9 536.4,389.6 531.9,390.4 528.9,390.4Z" fill="#88d1ba" stroke="#16222e" stroke-width="0.5"/>
<path d="M528.9,390.4 531.9,390.4 536.4,389.6 542.5,388.9 544,391.9 539.5,396.4 533.4,398.6 528.9,397.1 528.2,396.4 530.4,393.4Z" fill="#59bec0" stroke="#16222e" stroke-width="0.5"/>
<path d="M544,391.9 542.5,388.9 544,385.8 550,388.1 556,390.4 559,393.4 560.5,397.9 560.5,403.9 556,406.2 550,406.2 544,405.4 541,402.4 539.5,396.4Z" fill="#3aacc2" stroke="#16222e" stroke-width="0.5"/>
<path d="M556,390.4 559,390.4 562,396.4 560.5,397.9 559,393.4Z" fill="#73c9bd" stroke="#16222e" stroke-width="0.5"/>
<path d="M544,405.4 550,406.2 556,406.2 560.5,408.4 556,415.2 548.5,416 544,414.5 542.5,409.9Z" fill="#2592be" stroke="#16222e" stroke-width="0.5"/>
<path d="M459.8,409.6 466.1,407.5 473.1,408.2 479.4,409.2 487.2,411 492.8,411.7 495.6,421.5 478.7,432.8 469.6,435.6 461.9,431.4 457.7,420.1Z" fill="#3daec2" stroke="#16222e" stroke-width="0.5"/>
<path d="M457.7,409.6 461.9,413.1 466.1,413.8 466.8,418.7 464.7,424.4 464,431.4 459.1,431.4 457.7,420.1Z" fill="#40b0c2" stroke="#fff" stroke-width="0.7"/>
<path d="M501.9,406.1 501.9,400.7 508.3,397.8 515.3,395 520.2,396.7 521.6,401.2 520.2,399.1 518.8,404.7 520.2,408.9 523,412.4 526.5,415.2 530,417.6 535,421.5 529.3,428.6 523.7,423 515.3,415.9 509.7,408.9 505.4,406.1Z" fill="#38aac2" stroke="#fff" stroke-width="0.7"/>
<path d="M520.2,399.1 523.7,398.4 526.5,399.8 523.7,401.2 521.6,401.2Z" fill="#80cdbb" stroke="#16222e" stroke-width="0.5"/>
<path d="M521.6,401.2 523.7,401.2 526.5,399.8 530.7,400.5 532.9,402.6 529.3,403.3 527.2,402.6 526.5,405.4 529.3,408.9 532.9,412.4 535,416.6 529.3,411 525.8,407.5 523,404Z" fill="#59bec0" stroke="#16222e" stroke-width="0.5"/>
<path d="M527.2,402.6 529.3,403.3 532.9,402.6 535,406.1 534.3,409.6 532.9,412.4 529.3,408.9 526.5,405.4Z" fill="#42b2c2" stroke="#16222e" stroke-width="0.5"/>
<path d="M532.9,402.6 535,400.5 538.5,401.2 542,404 543.4,407.5 542,411.7 539.2,413.1 536.4,411 535,406.1Z" fill="#38aac2" stroke="#16222e" stroke-width="0.5"/>
<path d="M532.9,412.4 534.3,409.6 536.4,411 536.4,413.8 535,416.6Z" fill="#3daec2" stroke="#16222e" stroke-width="0.5"/>
<path d="M535,416.6 536.4,413.8 538.5,415.2 538.9,419.4 537.8,423 536.1,420.8Z" fill="#59bec0" stroke="#16222e" stroke-width="0.5"/>
<path d="M538.5,415.2 540.6,413.8 544.1,414.5 543.4,418 538.9,419.4Z" fill="#40b0c2" stroke="#16222e" stroke-width="0.5"/>
<path d="M536.4,411 539.2,413.1 540.6,413.8 538.5,415.2 536.4,413.8Z" fill="#f4d8f0" stroke="#e08bd8" stroke-width="0.8"/>
<path d="M537.8,423 538.9,419.4 543.4,418 549,416.6 553.9,416.6 556,415.2 557.5,420.1 549,435.6 542,434.2 536.4,425.8Z" fill="#40b0c2" stroke="#16222e" stroke-width="0.5"/>
</g>
<path d="M563.5,276.2 562.5,285 562,290 563.8,295.9 564.7,301.8 564.4,307.8 565.6,313.7 567.9,320.2 565.6,325.5 562.6,330.2 560.2,334.4 560.8,336.7" fill="none" stroke="#fff" stroke-width="0.9"/>
<path d="M559.1,339.7 557.6,343.8 558.5,348 559.1,352.7 560.8,356.3 563.8,357.5 566.2,359.8 567.3,364.6 570.9,368.7 568.5,371.7 569.7,374" fill="none" stroke="#fff" stroke-width="0.9"/>
<g clip-path="url(#c_ea)">
<path d="M601.8,429.6 603.9,433.6 605.2,438.4 607.9,441.8 610,445.8 611.3,449.2 611.3,454.6 624.9,468.2 638.4,468.2 652.7,468.9 651.3,464.1 649.3,461.4 651.3,458.7 647.9,454.6 645.9,451.9 645.2,447.9 645.9,443.1 647.9,438.4 645.2,435.7 642.5,432.3 638.4,428.9 634.4,428.2 630.3,429.6 627.6,431.6 623.5,432.3 619.5,430.9 616.7,428.2 615.4,424.1 611.3,425.5 607.3,424.1 604.5,422.1 601.8,423.5 601.2,426.9Z" fill="#33a5c2" stroke="#16222e" stroke-width="0.6"/>
<path d="M595.7,432.3 600.5,431.6 603.9,433.6 605.2,438.4 607.9,441.8 610,445.8 611.3,449.2 611.3,452.6 610,456 605.9,455.3 600.5,452.6 593.7,449.2 588.3,447.9 586.9,445.1 589.6,442.4 593.7,439.7 595.1,435.7Z" fill="#59bec0" stroke="#16222e" stroke-width="0.6"/>
<path d="M578.8,443.8 581.5,439.7 582.2,435.7 585.6,434.3 591,433 595.7,432.3 595.1,435.7 593.7,439.7 589.6,442.4 586.9,445.1 583.5,445.8 581.2,445.1Z" fill="#64c3bf" stroke="#16222e" stroke-width="0.6"/>
<path d="M553.5,420.2 557,418.7 560.1,417.7 564.1,418 568.1,416.9 572.1,415.9 576.1,415.3 580.1,415.9 584.2,416.9 588.2,417.3 592.2,416.9 594.7,416.3 597.2,416.1 599.7,417.7 601.2,420.2 602.2,423.2 602.7,426.2 603.2,429.2 599.2,429.7 595.2,430.2 591.2,431.2 587.2,431.7 583.2,432.2 580.1,431.7 579.1,434.2 565.1,436.2 555,432.2 553.5,424.2Z" fill="#217eb7" stroke="#fff" stroke-width="0.8"/>
<path d="M549,414.1 555,413.1 555,416.6 552,418.7 548.5,418Z" fill="#217eb7" stroke="#16222e" stroke-width="0.6"/>
<path d="M577.4,454.6 578.8,454.6 582.2,452.6 584.2,449.2 588.3,447.9 586.9,445.1 583.5,445.8 580.8,447.2 578.8,448.5 578.1,451.9Z" fill="#40b0c2" stroke="#16222e" stroke-width="0.6"/>
<path d="M575.4,450.6 578.1,448.5 578.8,446.5 579.5,448.5 578.5,451.9 577.4,455.3 576.1,454.6Z" fill="#299ac0" stroke="#16222e" stroke-width="0.6"/>
<path d="M577.4,446.5 579.1,443.5 581.2,445.1 579.9,447.2 578.8,446.8Z" fill="#48b5c2" stroke="#16222e" stroke-width="0.6"/>
<path d="M577.4,455.3 578.8,454.6 582.2,452.6 584.2,449.2 588.3,447.9 593.7,449.2 600.5,452.6 605.9,455.3 610,456 614,454.6 624.9,465.5 622.8,470.9 624.9,475 631,475.6 632.3,473.6 631.7,479 628.9,483.8 623.5,485.8 619.5,487.2 614,488.5 607.3,490.6 601.8,491.9 599.1,493.9 598.4,495.3 595.1,498 570.7,456Z" fill="#dcdcdc" stroke="#16222e" stroke-width="0.6"/>
<path d="M598.4,495.3 599.1,493.9 601.8,491.9 607.3,490.6 614,488.5 619.5,487.2 622.8,487.8 624.9,491 624.9,495.3 600.5,507.5 596.4,498Z" fill="#2fa1c1" stroke="#16222e" stroke-width="0.6"/>
<path d="M624.9,491 622.8,487.8 619.5,487.2 623.5,485.8 628.9,483.8 631.7,479 632.3,473.6 633.7,470.9 635,468.9 638.4,468.2 646.6,476.3 633,492.6Z" fill="#dcdcdc" stroke="#16222e" stroke-width="0.6"/>
<path d="M622.8,470.9 624.2,472.9 627.6,472.3 631.7,470.2 633.7,466.2 635.7,468.9 633.7,470.9 632.3,473.6 631,475.6 624.9,475Z" fill="#73c9bd" stroke="#16222e" stroke-width="0.6"/>
<path d="M620.5,464.8 622.7,465.1 623.3,469.3 621.1,469.3Z" fill="#dcdcdc" stroke="#16222e" stroke-width="0.6"/>
<path d="M610,456 613.4,453.6 612.9,457.1Z" fill="#dcdcdc" stroke="#16222e" stroke-width="0.6"/>
<path d="M594.7,410.1 598.2,411.1 602.2,412.6 606.2,414.1 609.3,415.6 607.2,416.6 604.2,416.6 601.2,417.1 597.2,416.1 594.7,416.3 594.2,413.1Z" fill="#3aacc2" stroke="#16222e" stroke-width="0.6"/>
<path d="M607.2,416.6 609.3,415.6 612.3,417.1 615.3,418.2 618.3,420.2 616.3,422.2 615.3,425.7 611.3,424.2 608.8,422.2 607.8,418.7Z" fill="#70c7bd" stroke="#16222e" stroke-width="0.6"/>
<path d="M602.7,417.7 605.2,416.6 607.8,418.7 608.8,422.2 606.7,424.2 604.7,422.7 603.2,420.2Z" fill="#4f8f8a" stroke="#16222e" stroke-width="0.6"/>
</g>
<path d="M609.3,403.6 611.3,400.6 615.3,397.6 619.3,395.6 623.3,396.1 625.3,398.1 624.8,401.6 621.3,400.6 618.8,403.1 618.3,406.1 620.3,409.1 622.8,411.1 625.3,413.1 628.3,414.6 630.3,416.6 628.3,418.7 626.8,421.2 627.3,425.2 628.3,429.2 625.3,431.7 621.3,432.2 617.3,430.2 615.3,427.2 614.8,424.2 616.3,421.2 614.3,418.2 611.8,414.6 609.8,410.1 608.8,406.6Z" fill="#fff" stroke="#fff" stroke-width="0.8"/>
<path d="M555,414.6 558.1,413.1 558.6,410.1 560.1,407.1 562.1,404.1 564.1,401.6 566.6,398.6 569.1,397.6 571.1,399.6 572.6,400.1 573.1,403.1 575.1,404.9 577.6,403.9 580.1,402.9 583.2,404.1 586.2,405.6 589.2,407.6 592.2,409.6 594.2,412.1 595.2,414.6 594.7,416.3 592.2,416.7 588.2,417.2 584.2,416.7 580.1,415.7 576.1,415.1 572.1,415.7 568.1,416.7 564.1,417.8 560.1,417.3 557,416.3Z" fill="#fff" stroke="#16222e" stroke-width="0.5"/>
<path d="M578.1,399.1 579.6,397.6 583.2,396.6 586.7,394.6 589,394.1 589.2,395.6 587.2,397.6 585.2,399.6 583.7,401.6 581.1,401.3 578.6,401.1Z" fill="#fff" stroke="#16222e" stroke-width="0.5"/>
<path d="M594.7,410.1 598.2,411.1 602.2,412.6 606.2,414.1 609.3,415.6 612.3,417.1 615.3,418.4" fill="none" stroke="#fff" stroke-width="0.9"/>
<path d="M469.4,345.2 473.2,343.7 477,344.4 475.5,347.4 478.5,348.2 477,352 477.7,355 480.7,359.5 483,363.3 484.5,367 487.5,370.8 488.3,374.5 486.7,377.6 483,379.1 478.5,379.8 473.9,381.3 470.2,382.8 469.4,382.1 472.4,379.1 475.5,376.8 472.4,376.1 470.9,373.8 473.2,370 475.5,367.8 472.4,366.3 471.7,363.3 470.2,360.2 469.4,356.5 468.4,352Z" fill="#38aac2" stroke="#16222e" stroke-width="0.6"/>
<path d="M458.1,375.3 458.9,370 461.1,365.5 464.2,361.7 467.2,360.2 469.4,362.5 468.7,366.3 469.4,370 467.2,373 463.4,374.5 460.4,376.1Z" fill="#52bbc1" stroke="#16222e" stroke-width="0.6"/>
<path d="M464.5,361.4 467.2,360.2 469.4,362.5 469,365.5 466,366Z" fill="#38aac2" stroke="#16222e" stroke-width="0.6"/>
<path d="M512.5,172 519.2,166.2 523,167.5 529.2,165 535.5,172.5 541.8,180 538,187.5 533,196.2 529.2,207.5 526,208.8 521.8,202.5 523,198.8 518,191.2 514.2,181.2Z" fill="#68c4be" stroke="#16222e" stroke-width="0.6"/>
<path d="M530.5,161.2 539.2,157.5 546.8,156.2 554.2,160.5 557.5,165 554.2,172.5 545.5,175 538,172.5 533,166.2Z" fill="#68c4be" stroke="#16222e" stroke-width="0.6"/>
<path d="M539.2,191.2 544.2,188.8 549.2,195 543,200.5 539.2,198Z" fill="#68c4be" stroke="#16222e" stroke-width="0.6"/>
<path d="M606,156.2 611.8,155 615.5,155.5 620,153 620.5,156.2 615.5,160 611.8,165 609.2,161.2Z" fill="#33a5c2" stroke="none" stroke-width="0.6"/>
<path d="M622.5,256.2 625.5,250 628,242.5 630.5,235 634.2,227.5 641.8,220 650.5,215 659.2,210 665,208.8 666.8,212.5 663,216.2 655.5,221.2 648,226.2 641.8,233.8 638,242.5 634.2,252.5 631.8,260 635.5,266.2 629.2,265 625.5,261.2Z" fill="#33a5c2" stroke="none" stroke-width="0.6"/>
<path d="M728,160 733,151.2 739.2,147.5 747,152.5 749.5,172.5 747,181.2 740.5,181.2 734.2,172.5 730.5,165Z" fill="#33a5c2" stroke="none" stroke-width="0.6"/>
<path d="M750.8,192.5 755.8,177.5 760.8,180 764,186.2 758.2,190Z" fill="#33a5c2" stroke="none" stroke-width="0.6"/>
<path d="M849.5,220 853.2,217.5 860.8,218 867,221.2 869,226.2 864.5,230 858.2,229.5 853.2,231.2 850,226.2Z" fill="#33a5c2" stroke="none" stroke-width="0.6"/>
<path d="M874,224.5 879.5,226.2 884,228 882,230 875.8,228Z" fill="#33a5c2" stroke="none" stroke-width="0.6"/>
<path d="M857.5,242.5 862,240.8 864.5,244.5 859.5,245Z" fill="#33a5c2" stroke="none" stroke-width="0.6"/>
<path d="M960,263 964,261 969,262.5 964.5,265Z" fill="#33a5c2" stroke="none" stroke-width="0.6"/>
<path d="M862,368.2 864.1,370.4 865.7,379 867.2,386.6 866.3,389.9 864.6,394.2 863.5,398.6 862,394.2 862.4,385.5 862,376.9Z" fill="#33a5c2" stroke="none" stroke-width="0.6"/>
<path d="M861.3,401.8 865.7,402.9 871.1,405.1 871.5,409 866.7,410.5 865.7,413.7 862,411.6 860.2,407.2Z" fill="#42b2c2" stroke="#16222e" stroke-width="0.6"/>
<path d="M857,410.5 860.7,412.7 862,418.1 861.3,424.6 859.8,431.1 857,436.5 851.6,438.7 846.1,440.8 840.7,441.9 836.4,440.8 835.3,437.6 840.7,436.5 845.1,434.3 849,431.1 852.7,428.9 855.9,423.5 856.3,415.9Z" fill="#42b2c2" stroke="#16222e" stroke-width="0.6"/>
<path d="M836.8,441.9 842.9,441.5 842.5,443.7 838.1,445.2Z" fill="#42b2c2" stroke="#16222e" stroke-width="0.6"/>
<path d="M828.8,443 833.8,440.8 835.3,445.2 833.1,449.5 831,450.6 829.4,447.4Z" fill="#42b2c2" stroke="#16222e" stroke-width="0.6"/>
<path d="M803.4,472.3 806,468 808.6,469 808.2,475.5 805.6,478.8 803.9,476.2Z" fill="#3daec2" stroke="#fff" stroke-width="0.6"/>
<path d="M774.6,483 778.3,481.7 779.5,484.8 776.5,487.1 774.1,485.7Z" fill="#2b9cc0" stroke="#fff" stroke-width="0.6"/>
<path d="M696.9,512.8 699.6,511.9 701.1,516.4 699.3,520 697.1,517.8Z" fill="#2b9cc0" stroke="#16222e" stroke-width="0.6"/>
<path d="M805.3,488 808.7,488 809.9,494.1 808.3,499.1 810.3,502.1 814.3,504.1 818.4,508.1 816.3,509.1 812.3,506.1 809.3,504.1 806.3,500.1 804.7,495.1Z" fill="#248fbd" stroke="#fff" stroke-width="0.6"/>
<path d="M810.3,516.1 815.3,514.1 819.4,515.1 820,519.2 817.3,521.2 814.3,519.2 811.3,518.6Z" fill="#248fbd" stroke="#fff" stroke-width="0.6"/>
<path d="M811.3,509.1 815.3,510.1 816.7,512.5 813.3,512.1Z" fill="#248fbd" stroke="#fff" stroke-width="0.6"/>
<path d="M798.3,514.5 802.7,508.5 803.5,509.3 799.3,515.3Z" fill="#248fbd" stroke="none" stroke-width="0.6"/>
<path d="M739,523.2 744.1,525.2 750.1,530.2 756.1,536.2 762.1,542.2 765.7,547.3 765.1,552.3 761.1,550.3 756.1,545.3 751.1,539.2 746.1,533.2 741,527.2Z" fill="#2b9cc0" stroke="#fff" stroke-width="0.6"/>
<path d="M766.1,554.3 771.2,553.9 778.2,555.9 785.2,557.3 790.2,558.7 789.2,559.9 782.2,559.3 775.2,558.3 769.2,557.3Z" fill="#2b9cc0" stroke="#fff" stroke-width="0.6"/>
<path d="M775.2,535.2 779.2,532.2 784.2,529.2 789.2,525.2 792.2,520.2 796.3,520.2 799.3,523.2 796.3,527.2 798.3,531.2 797.3,536.2 794.3,541.2 790.2,545.3 784.2,546.3 779.2,544.3 776.2,540.2Z" fill="#2b9cc0" stroke="#fff" stroke-width="0.6"/>
<path d="M775.2,535.2 779.2,532.2 784.2,529.2 789.2,525.2 792.2,520.2 796.3,520.2 799.3,523.2 796.3,527.2 793.3,527.2 789.2,531.8 782.6,534.6 776.6,535.4Z" fill="#248fbd" stroke="#fff" stroke-width="0.6"/>
<path d="M802.3,539.2 805.3,537.2 809.3,535.2 814.3,534.6 815.3,536.2 810.3,537.2 807.3,540.2 809.3,544.3 810.3,549.3 808.3,549.3 806.3,545.3 804.3,547.3 804.7,551.3 802.7,551.3 801.9,545.3Z" fill="#2b9cc0" stroke="#fff" stroke-width="0.6"/>
<path d="M796.3,560.3 800.3,560.7 800.3,561.5 796.3,561.3Z" fill="#2b9cc0" stroke="none" stroke-width="0.6"/>
<path d="M805.3,560.3 809.3,559.9 809.3,560.9 805.3,561.3Z" fill="#2b9cc0" stroke="none" stroke-width="0.6"/>
<path d="M813.3,562.3 818.4,559.9 822.4,559.3 821.4,561.3 816.3,563.3Z" fill="#2b9cc0" stroke="none" stroke-width="0.6"/>
<path d="M823.4,533.2 825.4,532.6 825.4,537.2 824,536.2Z" fill="#2b9cc0" stroke="none" stroke-width="0.6"/>
<path d="M818.4,545.3 824.4,544.7 830.4,545.5 824.4,546.3Z" fill="#2b9cc0" stroke="none" stroke-width="0.6"/>
<path d="M833.4,540.2 837.4,539.2 840.4,541.2 839.4,544.3 842.4,546.3 846.5,543.9 851.5,542.2 856.5,543.3 862.5,545.3 868.6,548.3 873.6,552.3 877.6,556.3 881.6,561.3 884.2,564.3 879.6,563.3 874.6,560.3 870.6,559.3 866.5,561.3 861.5,561.3 858.5,559.3 855.5,558.3 852.5,555.3 847.5,552.3 842.4,549.3 838.4,547.3 834.4,543.3Z" fill="#2b9cc0" stroke="none" stroke-width="0.6"/>
<path d="M859.9,543.9 868.6,548.3 873.6,552.3 877.6,556.3 881.6,561.3 884.2,564.3 879.6,563.3 874.6,560.3 870.6,559.3 866.5,561.3 860.5,561.5Z" fill="#2287ba" stroke="#fff" stroke-width="0.6"/>
<path d="M879.6,552.3 885.6,550.3 888.6,549.3 887.6,551.3 882.6,553.3Z" fill="#2287ba" stroke="none" stroke-width="0.6"/>
<path d="M896.7,553.3 899.7,554.3 900.3,555.9 897.3,554.7Z" fill="#556" stroke="#16222e" stroke-width="0.4"/>
<path d="M902.3,556.3 906.3,557.9 906.7,559.1 902.7,557.9Z" fill="#556" stroke="#16222e" stroke-width="0.4"/>
<path d="M908.7,559.3 911.7,560.9 913.1,563.3 909.9,561.3Z" fill="#556" stroke="#16222e" stroke-width="0.4"/>
<path d="M913.7,563.9 915.7,565.1 916.3,566.7 914.3,565.9Z" fill="#556" stroke="#16222e" stroke-width="0.4"/>
<path d="M785.9,603.8 788.2,598.1 795,594.7 802.9,591.3 808.6,585.6 812,581.1 816.5,577.7 822.2,575.4 827.9,576.6 831.3,572 835.8,567.5 841.5,569.7 847.1,570.9 846,575.4 849.4,578.8 855.1,582.2 858.5,584.5 859.6,577.7 860.8,570.9 862.6,566.3 864.8,569.7 867.1,576.6 871,580 873.2,586.8 877.8,592.4 882.3,597 886.9,601.5 890.3,608.3 892.5,616.3 891.4,624.2 888,631 884.6,637.8 882.3,643.5 878.9,645.8 874.4,649.2 871,646.9 867.6,649.2 863,648 857.4,644.6 854,639 851.7,634.4 849.4,636.7 847.1,633.3 843.7,631 838.1,627.6 831.3,625.8 824.5,627.2 817.7,629.9 812,632.1 806.3,632.6 800.6,634.4 795,636.2 790.4,634.4 791.6,628.7 790,621.9 787.7,614Z" fill="#3aacc2" stroke="#16222e" stroke-width="0.6"/>
<path d="M869.2,656.7 873.2,657.1 878.5,656.4 877.8,661.6 874.8,666.2 871.7,663.5Z" fill="#3aacc2" stroke="#16222e" stroke-width="0.6"/>
<path d="M943.6,635.6 945.9,634.9 949.3,640.1 951.5,644.6 957.2,645.8 958.3,649.2 954.9,653.7 952.7,658.2 949.3,656 946.5,652.6 948.1,648 946.5,642.4Z" fill="#dcdcdc" stroke="#16222e" stroke-width="0.6"/>
<path d="M942.9,654.8 946.5,657.1 945.9,661.6 942.9,666.2 939.7,670.7 935.6,675.3 930.7,677.5 927,674.8 928.8,670.7 933.4,667.3 937.9,662.8 940.6,658.2Z" fill="#dcdcdc" stroke="#16222e" stroke-width="0.6"/>
<path d="M920.2,591.8 923.2,593.1 928.4,597 926.6,598.1 921.6,594.7Z" fill="#dcdcdc" stroke="#16222e" stroke-width="0.5"/>
<path d="M927.7,576.6 928.8,576.6 930.2,581.1 929.1,581.3Z" fill="#556" stroke="#16222e" stroke-width="0.4"/>
<path d="M956.1,584.5 958.8,583.4 959.5,585.6 956.5,586.3Z" fill="#2fa1c1" stroke="#16222e" stroke-width="0.5"/>
<path d="M960.6,581.3 963.3,580.2 963.6,581.1 960.8,582.2Z" fill="#2fa1c1" stroke="#16222e" stroke-width="0.5"/>
<path d="M507.6,411 509.4,410.3 509.7,414.5 508.3,415.9 507.3,413.8Z" fill="#4cb7c1" stroke="none" stroke-width="0.6"/>
<path d="M507.3,418 509.7,418 509.9,422.3 508,423.2 506.8,420.8Z" fill="#38aac2" stroke="none" stroke-width="0.6"/>
<path d="M518.1,428.6 521.6,427.9 525.1,427.9 524.4,430.7 521.6,431.4 518.8,430Z" fill="#38aac2" stroke="none" stroke-width="0.6"/>
<path d="M546.9,436.3 551.1,435.9 555.3,436.7 554.6,438.1 550.4,438.1 547.3,437.7Z" fill="#40b0c2" stroke="#16222e" stroke-width="0.8"/>
<path d="M570.5,437.7 573.6,436.3 577.1,435.6 575,437.7 572.2,439.1Z" fill="#4fb9c1" stroke="#16222e" stroke-width="0.8"/>
<path d="M984.5,316.2 992,318 991.5,319 984.5,317.2Z" fill="#33a5c2" stroke="none" stroke-width="0.6"/>
<path d="M746.6,500.1 745.7,494.7 743.9,491.1 741.2,494.7 737.6,492.9 734.9,488.4 732.2,483 731.3,478.4 728.6,475.7 724,476.6 720.4,477.5 716.8,479.3 712.3,483 707.8,486.6 702.4,491.1 698.7,494.7 697.8,500.1 696.9,506.5 695.1,512.8 692.4,516 689.7,513.7 686.1,508.3 683.4,501.9 680.7,494.7 678.9,487.5 678,482.1 672.5,479.3 669.8,476.6 667.1,474.8 665.3,471.2 661.7,469 654.5,468.5 648.1,467.6 642.5,467.5 637.1,465.5 635.4,462.5 633.7,463.2 630.3,463.4 626,461.7 622.2,458 617.8,454.4 613.4,451.7 611.1,453.6 613.4,457.3 615.7,461.4 617.8,465.5 619.7,468.9 621.1,466.2 622.7,466.4 623.5,469.5 623.8,472 625.6,473.3 628.9,472.5 631.9,470.6 633.7,467.5 635,468.9 638.4,470.9 641.8,473.6 643.2,476.3 640.5,479.7 637.1,483.1 634.4,485.8 630.3,489.2 624.9,491 619.5,493.3 614,496 608.6,498.7 603.9,500.7 600.5,502.8 599.8,499.6 597.8,496 595.6,491.9 592.6,487.8 589.9,482.4 586.7,477 584.2,471.6 581.2,466.2 578.1,461.4 576.6,458.7 577.4,454.6 576.8,450.6 578.1,448.5 578.8,446.5 580.1,443.8 581.5,439.7 582.2,435.7 580.1,432.3 576.1,431.6 572,433 568,431.6 563.9,433 560.5,431.6 557.8,429.6 555.8,426.9 556.4,424.1 557.5,416.6 556,415.2 553.9,416.6 551.1,415.9 548.3,416.6 547.6,418 548.3,420.8 546.2,423.7 546.9,426.5 544.1,427.2 545.5,430 544.1,432.8 542,430 539.2,427.2 537.1,423.7 535.7,420.1 535,416.6 532.9,413.8 529.3,411 525.8,407.5 523,404 521.6,401.2 520.2,399.1 518.1,401.2 518.8,404.7 520.2,408.9 523,412.4 526.5,415.2 530,417.6 532.2,420.1 529.1,419.4 528.2,421.8 529.3,424.4 528.2,426.5 527.2,423.7 524.4,420.8 520.9,418.7 516.7,414.5 513.2,410.3 511.1,406.1 508.3,403.3 505.4,404 503.3,406.1 502.6,408.2 499.1,409.6 495.6,410.3 492.8,411.7 492.1,413.8 489.3,416.6 486.5,420.1 484.4,423.7 482.3,427.2 478,430.7 473.1,432.8 469.6,434.2 466.1,432.1 461.9,430.7 459.8,425.8 460.5,420.1 459.1,414.5 459.8,409.6 466.1,407.5 473.1,408.2 479.4,409.2 478.7,404.7 478,399.1 475.9,394.8 473.1,392 472.4,389.2 472.4,389.6 476.2,388.1 480,387.3 482.2,385.1 484.5,386.6 488.3,384.3 491.3,382.1 493.5,379.8 495.8,376.1 498.8,371.5 501.1,369.3 504.8,367.8 507.1,366.3 507.5,363.3 507.1,357.2 507.8,352.7 510.8,349.7 512.7,348.9 512.3,353.5 513.1,358 513.9,361.7 515.4,364 519.1,364.8 522.9,364 528.9,362.5 534.9,361 539.5,361.7 541.7,358 541,353.5 544,350.5 547.7,351.2 550,348.2 547,345.2 547.7,341.4 552.3,339.9 557.5,339.5 561.3,336.9 559,335.4 554.5,336.1 550,336.9 545.5,337.7 542.5,333.9 541,328.6 541.7,322.6 544,316.6 547,310.5 550,306 550.8,303 547.7,301.5 544,304.5 539.5,310.5 535.7,316.6 532.7,322.6 531.2,328.6 532.7,333.9 533.4,338.4 531.2,343.7 528.9,349.7 525.9,354.2 523.6,358 521.4,359.5 519.1,357.2 516.9,352.7 515.4,348.2 513.9,344.4 510.8,343.7 507.1,345.9 503.3,346.7 500.3,343.7 498.8,337.7 498,331.6 498.8,325.6 501.8,321.1 506.3,316.6 510.8,310.5 515.4,304.5 519.1,300 519.2,300 524.2,291.2 530.5,282.5 539.2,276.2 548,271.2 553,265 560.5,263.8 566.8,267.5 565,272.5 563.5,276.2" fill="none" stroke="#16222e" stroke-width="0.6"/>
<path d="M962.5,258 962.5,306" fill="none" stroke="#fff" stroke-width="1.8"/>
</g></svg>
<div class="ltitle">Wealth Inequality - Gini Index (CIA)</div>
<div class="legend">
<i style="left:183px;background:#ffffd9"></i><span style="left:232px">0</span>
<i style="left:282px;background:#e3f4b5"></i><span style="left:328px">10</span>
<i style="left:397px;background:#a5dcb7"></i><span style="left:445px">20</span>
<i style="left:522px;background:#56bcc1"></i><span style="left:570px">30</span>
<i style="left:646px;background:#2592be"></i><span style="left:694px">40</span>
<i style="left:772px;background:#2258a5"></i><span style="left:819px">50</span>
<i style="left:895px;background:#192c7b"></i><span style="left:943px">60</span>
</div>
</body>
</html>
